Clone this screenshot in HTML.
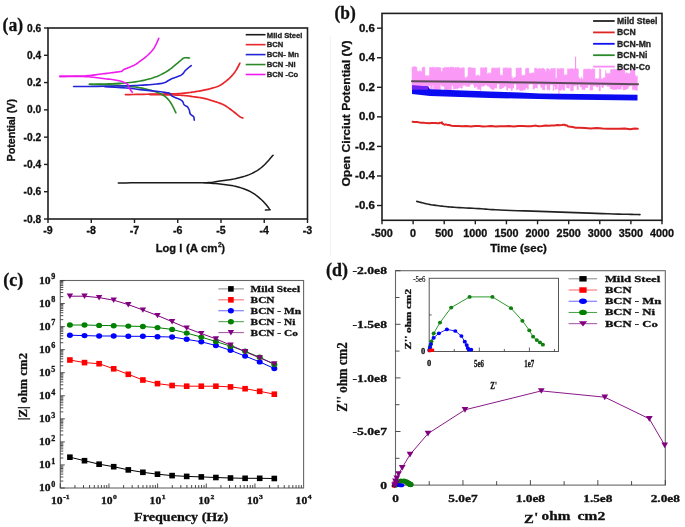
<!DOCTYPE html>
<html><head><meta charset="utf-8"><style>
html,body{margin:0;padding:0;background:#fff;}
body{width:685px;height:527px;overflow:hidden;font-family:"Liberation Sans", sans-serif;}
svg{display:block;filter:blur(0.35px);}
</style></head><body>
<svg width="685" height="527" viewBox="0 0 685 527">
<rect width="685" height="527" fill="#fff"/>
<rect x="48.0" y="28.0" width="259.5" height="191.0" fill="none" stroke="#1e1e1e" stroke-width="1.6"/>
<line x1="44.00" y1="28.00" x2="48.00" y2="28.00" stroke="#1e1e1e" stroke-width="1.4" />
<text x="41.20" y="31.50" font-family="'Liberation Sans', sans-serif" font-size="10.2" font-weight="bold" text-anchor="end" fill="#111" stroke="#111" stroke-width="0.3" textLength="14.18" lengthAdjust="spacingAndGlyphs" >0.6</text>
<line x1="44.00" y1="55.29" x2="48.00" y2="55.29" stroke="#1e1e1e" stroke-width="1.4" />
<text x="41.20" y="58.79" font-family="'Liberation Sans', sans-serif" font-size="10.2" font-weight="bold" text-anchor="end" fill="#111" stroke="#111" stroke-width="0.3" textLength="14.18" lengthAdjust="spacingAndGlyphs" >0.4</text>
<line x1="44.00" y1="82.57" x2="48.00" y2="82.57" stroke="#1e1e1e" stroke-width="1.4" />
<text x="41.20" y="86.07" font-family="'Liberation Sans', sans-serif" font-size="10.2" font-weight="bold" text-anchor="end" fill="#111" stroke="#111" stroke-width="0.3" textLength="14.18" lengthAdjust="spacingAndGlyphs" >0.2</text>
<line x1="44.00" y1="109.86" x2="48.00" y2="109.86" stroke="#1e1e1e" stroke-width="1.4" />
<text x="41.20" y="113.36" font-family="'Liberation Sans', sans-serif" font-size="10.2" font-weight="bold" text-anchor="end" fill="#111" stroke="#111" stroke-width="0.3" textLength="14.18" lengthAdjust="spacingAndGlyphs" >0.0</text>
<line x1="44.00" y1="137.14" x2="48.00" y2="137.14" stroke="#1e1e1e" stroke-width="1.4" />
<text x="41.20" y="140.64" font-family="'Liberation Sans', sans-serif" font-size="10.2" font-weight="bold" text-anchor="end" fill="#111" stroke="#111" stroke-width="0.3" textLength="17.58" lengthAdjust="spacingAndGlyphs" >-0.2</text>
<line x1="44.00" y1="164.43" x2="48.00" y2="164.43" stroke="#1e1e1e" stroke-width="1.4" />
<text x="41.20" y="167.93" font-family="'Liberation Sans', sans-serif" font-size="10.2" font-weight="bold" text-anchor="end" fill="#111" stroke="#111" stroke-width="0.3" textLength="17.58" lengthAdjust="spacingAndGlyphs" >-0.4</text>
<line x1="44.00" y1="191.71" x2="48.00" y2="191.71" stroke="#1e1e1e" stroke-width="1.4" />
<text x="41.20" y="195.21" font-family="'Liberation Sans', sans-serif" font-size="10.2" font-weight="bold" text-anchor="end" fill="#111" stroke="#111" stroke-width="0.3" textLength="17.58" lengthAdjust="spacingAndGlyphs" >-0.6</text>
<line x1="44.00" y1="219.00" x2="48.00" y2="219.00" stroke="#1e1e1e" stroke-width="1.4" />
<text x="41.20" y="222.50" font-family="'Liberation Sans', sans-serif" font-size="10.2" font-weight="bold" text-anchor="end" fill="#111" stroke="#111" stroke-width="0.3" textLength="17.58" lengthAdjust="spacingAndGlyphs" >-0.8</text>
<line x1="48.00" y1="219.00" x2="48.00" y2="223.00" stroke="#1e1e1e" stroke-width="1.4" />
<text x="48.00" y="233.80" font-family="'Liberation Sans', sans-serif" font-size="10.6" font-weight="bold" text-anchor="middle" fill="#111" stroke="#111" stroke-width="0.3" textLength="9.43" lengthAdjust="spacingAndGlyphs" >-9</text>
<line x1="91.25" y1="219.00" x2="91.25" y2="223.00" stroke="#1e1e1e" stroke-width="1.4" />
<text x="91.25" y="233.80" font-family="'Liberation Sans', sans-serif" font-size="10.6" font-weight="bold" text-anchor="middle" fill="#111" stroke="#111" stroke-width="0.3" textLength="9.43" lengthAdjust="spacingAndGlyphs" >-8</text>
<line x1="134.50" y1="219.00" x2="134.50" y2="223.00" stroke="#1e1e1e" stroke-width="1.4" />
<text x="134.50" y="233.80" font-family="'Liberation Sans', sans-serif" font-size="10.6" font-weight="bold" text-anchor="middle" fill="#111" stroke="#111" stroke-width="0.3" textLength="9.43" lengthAdjust="spacingAndGlyphs" >-7</text>
<line x1="177.75" y1="219.00" x2="177.75" y2="223.00" stroke="#1e1e1e" stroke-width="1.4" />
<text x="177.75" y="233.80" font-family="'Liberation Sans', sans-serif" font-size="10.6" font-weight="bold" text-anchor="middle" fill="#111" stroke="#111" stroke-width="0.3" textLength="9.43" lengthAdjust="spacingAndGlyphs" >-6</text>
<line x1="221.00" y1="219.00" x2="221.00" y2="223.00" stroke="#1e1e1e" stroke-width="1.4" />
<text x="221.00" y="233.80" font-family="'Liberation Sans', sans-serif" font-size="10.6" font-weight="bold" text-anchor="middle" fill="#111" stroke="#111" stroke-width="0.3" textLength="9.43" lengthAdjust="spacingAndGlyphs" >-5</text>
<line x1="264.25" y1="219.00" x2="264.25" y2="223.00" stroke="#1e1e1e" stroke-width="1.4" />
<text x="264.25" y="233.80" font-family="'Liberation Sans', sans-serif" font-size="10.6" font-weight="bold" text-anchor="middle" fill="#111" stroke="#111" stroke-width="0.3" textLength="9.43" lengthAdjust="spacingAndGlyphs" >-4</text>
<line x1="307.50" y1="219.00" x2="307.50" y2="223.00" stroke="#1e1e1e" stroke-width="1.4" />
<text x="307.50" y="233.80" font-family="'Liberation Sans', sans-serif" font-size="10.6" font-weight="bold" text-anchor="middle" fill="#111" stroke="#111" stroke-width="0.3" textLength="9.43" lengthAdjust="spacingAndGlyphs" >-3</text>
<text x="15.40" y="130.20" font-family="'Liberation Sans', sans-serif" font-size="11.8" font-weight="bold" text-anchor="middle" fill="#111" stroke="#111" stroke-width="0.3" textLength="62.60" lengthAdjust="spacingAndGlyphs"  transform="rotate(-90 15.40 130.20)">Potential (V)</text>
<text x="155.80" y="251.60" font-family="'Liberation Sans', sans-serif" font-size="11.6" font-weight="bold" text-anchor="start" fill="#111" stroke="#111" stroke-width="0.3" textLength="26.50" lengthAdjust="spacingAndGlyphs" >Log I</text>
<text x="186.00" y="251.60" font-family="'Liberation Sans', sans-serif" font-size="10.3" font-weight="bold" text-anchor="start" fill="#111" stroke="#111" stroke-width="0.3" textLength="31.50" lengthAdjust="spacingAndGlyphs" >(A cm</text>
<text x="218.00" y="246.60" font-family="'Liberation Sans', sans-serif" font-size="6.5" font-weight="bold" text-anchor="start" fill="#111" stroke="#111" stroke-width="0.3" >2</text>
<text x="221.60" y="251.60" font-family="'Liberation Sans', sans-serif" font-size="10.3" font-weight="bold" text-anchor="start" fill="#111" stroke="#111" stroke-width="0.3" >)</text>
<text x="2.60" y="30.50" font-family="'Liberation Serif', serif" font-size="18.5" font-weight="bold" text-anchor="start" fill="#111" stroke="#111" stroke-width="0.3" textLength="20.60" lengthAdjust="spacingAndGlyphs" >(a)</text>
<polyline points="118.30,182.90 121.50,182.89 125.73,182.88 130.77,182.87 136.39,182.86 142.35,182.84 148.42,182.83 154.38,182.81 160.00,182.80 165.60,182.80 171.54,182.81 177.64,182.83 183.72,182.85 189.60,182.85 195.09,182.84 200.02,182.79 204.20,182.70 207.54,182.57 210.16,182.40 212.23,182.21 213.91,181.99 215.37,181.75 216.76,181.50 218.25,181.25 220.00,181.00 221.93,180.76 223.84,180.52 225.74,180.28 227.64,180.03 229.53,179.76 231.41,179.45 233.30,179.10 235.20,178.70 237.12,178.25 239.07,177.78 241.04,177.27 242.99,176.72 244.93,176.14 246.82,175.51 248.65,174.83 250.40,174.10 252.07,173.33 253.68,172.52 255.23,171.67 256.74,170.77 258.21,169.83 259.65,168.82 261.08,167.74 262.50,166.60 263.97,165.28 265.50,163.76 267.05,162.11 268.56,160.43 269.97,158.81 271.23,157.34 272.29,156.11 273.10,155.20" fill="none" stroke="#1a1a1a" stroke-width="1.5" stroke-linejoin="round" stroke-linecap="round" />
<polyline points="204.20,182.70 205.42,182.79 207.05,182.91 208.99,183.05 211.15,183.21 213.42,183.38 215.72,183.57 217.95,183.78 220.00,184.00 221.93,184.22 223.84,184.43 225.74,184.66 227.64,184.90 229.53,185.17 231.41,185.49 233.30,185.86 235.20,186.30 237.12,186.79 239.07,187.32 241.04,187.90 242.99,188.53 244.93,189.20 246.82,189.94 248.65,190.74 250.40,191.60 252.09,192.56 253.75,193.61 255.36,194.73 256.93,195.91 258.43,197.12 259.86,198.34 261.22,199.54 262.50,200.70 263.72,201.90 264.89,203.19 266.01,204.51 267.06,205.82 268.00,207.05 268.84,208.16 269.54,209.10 270.10,209.80 265.50,210.10" fill="none" stroke="#1a1a1a" stroke-width="1.5" stroke-linejoin="round" stroke-linecap="round" />
<polyline points="125.50,94.60 127.39,94.57 129.91,94.53 132.91,94.48 136.24,94.42 139.77,94.37 143.33,94.31 146.79,94.25 150.00,94.20 153.12,94.15 156.36,94.11 159.65,94.06 162.90,94.02 166.05,93.97 169.01,93.92 171.72,93.86 174.10,93.80 176.10,93.73 177.79,93.66 179.22,93.59 180.46,93.51 181.60,93.42 182.68,93.32 183.79,93.22 185.00,93.10 186.25,92.97 187.47,92.82 188.67,92.67 189.84,92.51 191.00,92.34 192.16,92.16 193.32,91.98 194.50,91.80 195.69,91.62 196.88,91.44 198.06,91.26 199.25,91.07 200.44,90.87 201.62,90.66 202.81,90.44 204.00,90.20 205.21,89.94 206.44,89.66 207.69,89.36 208.93,89.06 210.15,88.74 211.33,88.43 212.45,88.11 213.50,87.80 214.45,87.52 215.31,87.27 216.10,87.04 216.86,86.80 217.61,86.53 218.38,86.20 219.20,85.80 220.10,85.30 221.09,84.69 222.16,83.99 223.28,83.22 224.41,82.39 225.55,81.53 226.66,80.65 227.72,79.76 228.70,78.90 229.62,78.05 230.49,77.19 231.33,76.32 232.14,75.43 232.91,74.53 233.66,73.61 234.39,72.67 235.10,71.70 235.81,70.64 236.53,69.47 237.23,68.23 237.90,67.00 238.52,65.82 239.07,64.76 239.54,63.86 239.90,63.20" fill="none" stroke="#e8262b" stroke-width="1.7" stroke-linejoin="round" stroke-linecap="round" />
<polyline points="150.00,94.60 151.95,94.63 154.64,94.67 157.85,94.71 161.37,94.76 164.97,94.82 168.44,94.88 171.55,94.94 174.10,95.00 176.10,95.06 177.79,95.12 179.22,95.18 180.46,95.24 181.60,95.31 182.68,95.40 183.79,95.49 185.00,95.60 186.25,95.73 187.47,95.87 188.67,96.03 189.84,96.20 191.00,96.37 192.16,96.55 193.32,96.73 194.50,96.90 195.69,97.06 196.88,97.21 198.06,97.36 199.25,97.51 200.44,97.67 201.62,97.85 202.81,98.06 204.00,98.30 205.19,98.58 206.38,98.89 207.56,99.22 208.75,99.58 209.94,99.94 211.12,100.32 212.31,100.71 213.50,101.10 214.71,101.49 215.94,101.89 217.19,102.30 218.43,102.71 219.65,103.14 220.83,103.58 221.95,104.03 223.00,104.50 223.97,104.99 224.88,105.49 225.73,106.01 226.54,106.54 227.32,107.08 228.08,107.62 228.84,108.16 229.60,108.70 230.36,109.24 231.11,109.78 231.85,110.33 232.57,110.88 233.28,111.42 233.97,111.96 234.64,112.49 235.30,113.00 235.95,113.52 236.59,114.05 237.21,114.58 237.83,115.09 238.41,115.59 238.98,116.04 239.51,116.45 240.00,116.80 240.47,117.08 240.92,117.31 241.35,117.49 241.74,117.64 242.10,117.75 242.42,117.85 242.69,117.93 242.90,118.00" fill="none" stroke="#e8262b" stroke-width="1.7" stroke-linejoin="round" stroke-linecap="round" />
<polyline points="89.40,84.30 91.46,84.26 94.23,84.21 97.53,84.15 101.18,84.08 105.00,84.00 108.82,83.89 112.44,83.76 115.70,83.60 118.68,83.42 121.59,83.23 124.43,83.02 127.20,82.78 129.90,82.52 132.54,82.22 135.10,81.88 137.60,81.50 140.03,81.08 142.39,80.61 144.68,80.12 146.90,79.58 149.05,79.01 151.14,78.41 153.15,77.77 155.10,77.10 156.96,76.40 158.73,75.66 160.43,74.88 162.06,74.07 163.63,73.23 165.18,72.36 166.69,71.45 168.20,70.50 169.72,69.47 171.24,68.34 172.75,67.14 174.22,65.92 175.62,64.72 176.94,63.59 178.14,62.57 179.20,61.70 180.09,60.97 180.82,60.33 181.42,59.78 181.94,59.30 182.42,58.89 182.90,58.55 183.41,58.25 184.00,58.00 184.69,57.82 185.45,57.74 186.25,57.73 187.05,57.77 187.81,57.84 188.50,57.91 189.07,57.97 189.50,58.00" fill="none" stroke="#2a8a2a" stroke-width="1.6" stroke-linejoin="round" stroke-linecap="round" />
<polyline points="89.40,84.30 91.46,84.36 94.23,84.43 97.53,84.51 101.18,84.61 105.00,84.73 108.82,84.86 112.44,85.02 115.70,85.20 118.69,85.40 121.64,85.63 124.52,85.87 127.34,86.14 130.06,86.42 132.69,86.73 135.21,87.05 137.60,87.40 139.86,87.77 141.99,88.15 144.01,88.56 145.93,88.99 147.77,89.44 149.53,89.90 151.24,90.39 152.90,90.90 154.51,91.43 156.06,91.97 157.54,92.53 158.95,93.11 160.29,93.71 161.57,94.34 162.77,95.00 163.90,95.70 164.93,96.41 165.86,97.13 166.71,97.87 167.49,98.64 168.23,99.46 168.95,100.33 169.67,101.28 170.40,102.30 171.17,103.50 171.97,104.90 172.78,106.41 173.56,107.96 174.28,109.46 174.94,110.82 175.48,111.96 175.90,112.80" fill="none" stroke="#2a8a2a" stroke-width="1.6" stroke-linejoin="round" stroke-linecap="round" />
<polyline points="73.60,86.50 79.40,86.47 87.78,86.43 96.84,86.38 104.70,86.30 111.02,86.20 116.76,86.07 121.94,85.93 126.60,85.80 130.58,85.68 133.92,85.57 136.95,85.45 140.00,85.30 143.19,85.12 146.34,84.92 149.31,84.71 152.00,84.50 154.35,84.29 156.44,84.07 158.30,83.84 160.00,83.60 161.50,83.36 162.78,83.12 163.93,82.84 165.00,82.50 165.98,82.06 166.84,81.55 167.65,81.01 168.50,80.50 169.39,80.01 170.27,79.51 171.18,79.04 172.10,78.60 173.04,78.22 173.98,77.89 174.96,77.57 176.00,77.20 177.17,76.78 178.44,76.34 179.66,75.87 180.70,75.40 181.49,74.93 182.12,74.45 182.67,73.95 183.20,73.40 183.69,72.79 184.12,72.14 184.57,71.46 185.10,70.80 185.75,70.15 186.47,69.50 187.23,68.85 188.00,68.20 188.85,67.49 189.78,66.74 190.62,66.07 191.20,65.60" fill="none" stroke="#2323d8" stroke-width="1.6" stroke-linejoin="round" stroke-linecap="round" />
<polyline points="104.70,86.60 108.83,86.85 114.81,87.20 121.21,87.60 126.60,88.00 130.63,88.40 134.04,88.83 137.09,89.24 140.00,89.60 142.77,89.89 145.31,90.14 147.69,90.37 150.00,90.60 152.25,90.83 154.41,91.04 156.48,91.26 158.50,91.50 160.54,91.77 162.56,92.06 164.42,92.35 166.00,92.60 167.21,92.77 168.15,92.88 168.91,93.02 169.60,93.30 170.18,93.78 170.62,94.41 171.02,95.05 171.50,95.60 172.07,96.02 172.68,96.36 173.33,96.68 174.00,97.00 174.71,97.33 175.47,97.66 176.24,97.98 177.00,98.30 177.76,98.59 178.53,98.86 179.28,99.15 180.00,99.50 180.71,99.90 181.41,100.35 182.06,100.85 182.60,101.40 182.99,102.06 183.26,102.82 183.50,103.56 183.80,104.20 184.18,104.70 184.60,105.11 185.04,105.46 185.50,105.80 185.98,106.05 186.49,106.23 187.00,106.47 187.50,106.90 188.01,107.62 188.54,108.53 189.02,109.50 189.40,110.40 189.61,111.23 189.69,112.04 189.78,112.81 190.00,113.50 190.41,114.09 190.93,114.61 191.49,115.07 192.00,115.50 192.47,115.82 192.94,116.06 193.36,116.34 193.70,116.80 193.94,117.58 194.11,118.58 194.22,119.54 194.30,120.20" fill="none" stroke="#2323d8" stroke-width="1.6" stroke-linejoin="round" stroke-linecap="round" />
<polyline points="59.90,76.40 61.96,76.36 64.76,76.33 68.09,76.28 71.77,76.23 75.58,76.15 79.32,76.06 82.80,75.95 85.80,75.80 88.41,75.61 90.86,75.39 93.15,75.13 95.33,74.86 97.39,74.57 99.36,74.30 101.25,74.04 103.10,73.80 104.88,73.59 106.58,73.38 108.19,73.18 109.71,72.99 111.16,72.81 112.52,72.64 113.80,72.46 115.00,72.30 116.12,72.15 117.15,72.01 118.10,71.88 118.97,71.76 119.76,71.63 120.48,71.50 121.12,71.36 121.70,71.20 122.15,71.03 122.44,70.85 122.62,70.67 122.75,70.48 122.87,70.28 123.04,70.07 123.30,69.84 123.70,69.60 124.25,69.34 124.91,69.06 125.65,68.76 126.44,68.45 127.25,68.14 128.07,67.82 128.86,67.51 129.60,67.20 130.30,66.91 130.99,66.63 131.68,66.35 132.36,66.07 133.03,65.79 133.69,65.48 134.35,65.16 135.00,64.80 135.65,64.40 136.30,63.97 136.94,63.51 137.57,63.04 138.20,62.56 138.82,62.09 139.42,61.63 140.00,61.20 140.56,60.80 141.10,60.42 141.63,60.06 142.14,59.71 142.65,59.35 143.16,58.99 143.68,58.60 144.20,58.20 144.73,57.78 145.27,57.35 145.80,56.91 146.34,56.46 146.88,56.00 147.42,55.52 147.96,55.02 148.50,54.50 149.05,53.96 149.62,53.39 150.20,52.80 150.78,52.19 151.34,51.58 151.89,50.95 152.41,50.33 152.90,49.70 153.35,49.08 153.77,48.45 154.17,47.82 154.55,47.19 154.92,46.54 155.28,45.88 155.64,45.20 156.00,44.50 156.38,43.73 156.79,42.88 157.20,41.98 157.59,41.08 157.97,40.21 158.30,39.44 158.59,38.79 158.80,38.30" fill="none" stroke="#f01af0" stroke-width="1.6" stroke-linejoin="round" stroke-linecap="round" />
<polyline points="59.90,76.40 61.96,76.40 64.76,76.40 68.09,76.39 71.77,76.38 75.58,76.39 79.32,76.43 82.80,76.49 85.80,76.60 88.40,76.76 90.82,76.96 93.09,77.20 95.24,77.46 97.28,77.73 99.26,78.00 101.19,78.26 103.10,78.50 104.99,78.72 106.83,78.93 108.62,79.13 110.34,79.33 111.98,79.53 113.55,79.74 115.02,79.96 116.40,80.20 117.68,80.45 118.86,80.72 119.96,81.00 120.97,81.28 121.90,81.57 122.77,81.85 123.56,82.13 124.30,82.40 124.95,82.65 125.52,82.88 126.00,83.11 126.41,83.33 126.78,83.56 127.10,83.81 127.41,84.09 127.70,84.40 127.95,84.74 128.13,85.10 128.25,85.48 128.36,85.88 128.46,86.30 128.58,86.75 128.76,87.21 129.00,87.70 129.34,88.25 129.76,88.89 130.24,89.57 130.73,90.26 131.22,90.92 131.66,91.52 132.03,92.03 132.30,92.40" fill="none" stroke="#f01af0" stroke-width="1.6" stroke-linejoin="round" stroke-linecap="round" />
<line x1="245.70" y1="34.70" x2="265.50" y2="34.70" stroke="#1a1a1a" stroke-width="1.6" />
<text x="266.80" y="37.50" font-family="'Liberation Sans', sans-serif" font-size="7.7" font-weight="bold" text-anchor="start" fill="#222" stroke="#222" stroke-width="0.3" textLength="35.58" lengthAdjust="spacingAndGlyphs" >Mild Steel</text>
<line x1="245.70" y1="44.65" x2="265.50" y2="44.65" stroke="#e8262b" stroke-width="1.6" />
<text x="266.80" y="47.45" font-family="'Liberation Sans', sans-serif" font-size="7.7" font-weight="bold" text-anchor="start" fill="#222" stroke="#222" stroke-width="0.3" textLength="16.52" lengthAdjust="spacingAndGlyphs" >BCN</text>
<line x1="245.70" y1="54.60" x2="265.50" y2="54.60" stroke="#2323d8" stroke-width="1.6" />
<text x="266.80" y="57.40" font-family="'Liberation Sans', sans-serif" font-size="7.7" font-weight="bold" text-anchor="start" fill="#222" stroke="#222" stroke-width="0.3" textLength="32.18" lengthAdjust="spacingAndGlyphs" >BCN- Mn</text>
<line x1="245.70" y1="64.55" x2="265.50" y2="64.55" stroke="#2a8a2a" stroke-width="1.6" />
<text x="266.80" y="67.35" font-family="'Liberation Sans', sans-serif" font-size="7.7" font-weight="bold" text-anchor="start" fill="#222" stroke="#222" stroke-width="0.3" textLength="28.80" lengthAdjust="spacingAndGlyphs" >BCN -Ni</text>
<line x1="245.70" y1="74.50" x2="265.50" y2="74.50" stroke="#f01af0" stroke-width="1.6" />
<text x="266.80" y="77.30" font-family="'Liberation Sans', sans-serif" font-size="7.7" font-weight="bold" text-anchor="start" fill="#222" stroke="#222" stroke-width="0.3" textLength="31.33" lengthAdjust="spacingAndGlyphs" >BCN -Co</text>
<line x1="330.30" y1="36.00" x2="330.30" y2="256.00" stroke="#f2f2f2" stroke-width="1.0" />
<rect x="382.0" y="13.4" width="280.0" height="206.9" fill="none" stroke="#1e1e1e" stroke-width="1.6"/>
<line x1="377.00" y1="28.18" x2="382.00" y2="28.18" stroke="#1e1e1e" stroke-width="1.4" />
<text x="374.80" y="31.58" font-family="'Liberation Sans', sans-serif" font-size="10.4" font-weight="bold" text-anchor="end" fill="#111" stroke="#111" stroke-width="0.3" textLength="15.90" lengthAdjust="spacingAndGlyphs" >0.6</text>
<line x1="377.00" y1="57.74" x2="382.00" y2="57.74" stroke="#1e1e1e" stroke-width="1.4" />
<text x="374.80" y="61.14" font-family="'Liberation Sans', sans-serif" font-size="10.4" font-weight="bold" text-anchor="end" fill="#111" stroke="#111" stroke-width="0.3" textLength="15.90" lengthAdjust="spacingAndGlyphs" >0.4</text>
<line x1="377.00" y1="87.29" x2="382.00" y2="87.29" stroke="#1e1e1e" stroke-width="1.4" />
<text x="374.80" y="90.69" font-family="'Liberation Sans', sans-serif" font-size="10.4" font-weight="bold" text-anchor="end" fill="#111" stroke="#111" stroke-width="0.3" textLength="15.90" lengthAdjust="spacingAndGlyphs" >0.2</text>
<line x1="377.00" y1="116.85" x2="382.00" y2="116.85" stroke="#1e1e1e" stroke-width="1.4" />
<text x="374.80" y="120.25" font-family="'Liberation Sans', sans-serif" font-size="10.4" font-weight="bold" text-anchor="end" fill="#111" stroke="#111" stroke-width="0.3" textLength="15.90" lengthAdjust="spacingAndGlyphs" >0.0</text>
<line x1="377.00" y1="146.41" x2="382.00" y2="146.41" stroke="#1e1e1e" stroke-width="1.4" />
<text x="374.80" y="149.81" font-family="'Liberation Sans', sans-serif" font-size="10.4" font-weight="bold" text-anchor="end" fill="#111" stroke="#111" stroke-width="0.3" textLength="19.71" lengthAdjust="spacingAndGlyphs" >-0.2</text>
<line x1="377.00" y1="175.96" x2="382.00" y2="175.96" stroke="#1e1e1e" stroke-width="1.4" />
<text x="374.80" y="179.36" font-family="'Liberation Sans', sans-serif" font-size="10.4" font-weight="bold" text-anchor="end" fill="#111" stroke="#111" stroke-width="0.3" textLength="19.71" lengthAdjust="spacingAndGlyphs" >-0.4</text>
<line x1="377.00" y1="205.52" x2="382.00" y2="205.52" stroke="#1e1e1e" stroke-width="1.4" />
<text x="374.80" y="208.92" font-family="'Liberation Sans', sans-serif" font-size="10.4" font-weight="bold" text-anchor="end" fill="#111" stroke="#111" stroke-width="0.3" textLength="19.71" lengthAdjust="spacingAndGlyphs" >-0.6</text>
<line x1="382.00" y1="220.30" x2="382.00" y2="224.30" stroke="#1e1e1e" stroke-width="1.4" />
<text x="382.00" y="237.00" font-family="'Liberation Sans', sans-serif" font-size="10.3" font-weight="bold" text-anchor="middle" fill="#111" stroke="#111" stroke-width="0.3" textLength="21.65" lengthAdjust="spacingAndGlyphs" >-500</text>
<line x1="413.11" y1="220.30" x2="413.11" y2="224.30" stroke="#1e1e1e" stroke-width="1.4" />
<text x="413.11" y="237.00" font-family="'Liberation Sans', sans-serif" font-size="10.3" font-weight="bold" text-anchor="middle" fill="#111" stroke="#111" stroke-width="0.3" textLength="6.01" lengthAdjust="spacingAndGlyphs" >0</text>
<line x1="444.22" y1="220.30" x2="444.22" y2="224.30" stroke="#1e1e1e" stroke-width="1.4" />
<text x="444.22" y="237.00" font-family="'Liberation Sans', sans-serif" font-size="10.3" font-weight="bold" text-anchor="middle" fill="#111" stroke="#111" stroke-width="0.3" textLength="18.04" lengthAdjust="spacingAndGlyphs" >500</text>
<line x1="475.33" y1="220.30" x2="475.33" y2="224.30" stroke="#1e1e1e" stroke-width="1.4" />
<text x="475.33" y="237.00" font-family="'Liberation Sans', sans-serif" font-size="10.3" font-weight="bold" text-anchor="middle" fill="#111" stroke="#111" stroke-width="0.3" textLength="24.06" lengthAdjust="spacingAndGlyphs" >1000</text>
<line x1="506.44" y1="220.30" x2="506.44" y2="224.30" stroke="#1e1e1e" stroke-width="1.4" />
<text x="506.44" y="237.00" font-family="'Liberation Sans', sans-serif" font-size="10.3" font-weight="bold" text-anchor="middle" fill="#111" stroke="#111" stroke-width="0.3" textLength="24.06" lengthAdjust="spacingAndGlyphs" >1500</text>
<line x1="537.56" y1="220.30" x2="537.56" y2="224.30" stroke="#1e1e1e" stroke-width="1.4" />
<text x="537.56" y="237.00" font-family="'Liberation Sans', sans-serif" font-size="10.3" font-weight="bold" text-anchor="middle" fill="#111" stroke="#111" stroke-width="0.3" textLength="24.06" lengthAdjust="spacingAndGlyphs" >2000</text>
<line x1="568.67" y1="220.30" x2="568.67" y2="224.30" stroke="#1e1e1e" stroke-width="1.4" />
<text x="568.67" y="237.00" font-family="'Liberation Sans', sans-serif" font-size="10.3" font-weight="bold" text-anchor="middle" fill="#111" stroke="#111" stroke-width="0.3" textLength="24.06" lengthAdjust="spacingAndGlyphs" >2500</text>
<line x1="599.78" y1="220.30" x2="599.78" y2="224.30" stroke="#1e1e1e" stroke-width="1.4" />
<text x="599.78" y="237.00" font-family="'Liberation Sans', sans-serif" font-size="10.3" font-weight="bold" text-anchor="middle" fill="#111" stroke="#111" stroke-width="0.3" textLength="24.06" lengthAdjust="spacingAndGlyphs" >3000</text>
<line x1="630.89" y1="220.30" x2="630.89" y2="224.30" stroke="#1e1e1e" stroke-width="1.4" />
<text x="630.89" y="237.00" font-family="'Liberation Sans', sans-serif" font-size="10.3" font-weight="bold" text-anchor="middle" fill="#111" stroke="#111" stroke-width="0.3" textLength="24.06" lengthAdjust="spacingAndGlyphs" >3500</text>
<line x1="662.00" y1="220.30" x2="662.00" y2="224.30" stroke="#1e1e1e" stroke-width="1.4" />
<text x="662.00" y="237.00" font-family="'Liberation Sans', sans-serif" font-size="10.3" font-weight="bold" text-anchor="middle" fill="#111" stroke="#111" stroke-width="0.3" textLength="24.06" lengthAdjust="spacingAndGlyphs" >4000</text>
<text x="350.40" y="113.50" font-family="'Liberation Sans', sans-serif" font-size="11.8" font-weight="bold" text-anchor="middle" fill="#111" stroke="#111" stroke-width="0.3" textLength="146.20" lengthAdjust="spacingAndGlyphs"  transform="rotate(-90 350.40 113.50)">Open Circiut Potential (V)</text>
<text x="490.20" y="251.90" font-family="'Liberation Sans', sans-serif" font-size="10.9" font-weight="bold" text-anchor="start" fill="#111" stroke="#111" stroke-width="0.3" textLength="56.70" lengthAdjust="spacingAndGlyphs" >Time (sec)</text>
<text x="334.40" y="18.50" font-family="'Liberation Serif', serif" font-size="18.5" font-weight="bold" text-anchor="start" fill="#111" stroke="#111" stroke-width="0.3" textLength="21.30" lengthAdjust="spacingAndGlyphs" >(b)</text>
<path d="M412.2,66.8V89.5 M412.7,67.3V89.5 M413.2,67.1V89.5 M413.7,66.4V89.5 M414.2,66.4V89.5 M414.7,66.4V89.5 M415.2,67.0V89.5 M415.7,66.5V89.5 M416.2,67.3V89.5 M416.7,67.2V89.5 M417.2,71.4V89.5 M417.7,70.5V89.5 M418.2,71.3V89.5 M418.7,71.8V89.5 M419.2,71.4V89.5 M419.7,69.9V89.5 M420.2,71.4V89.5 M420.7,71.0V89.5 M421.2,71.5V89.5 M421.7,71.8V89.5 M422.2,67.5V89.5 M422.7,67.3V89.5 M423.2,67.7V89.5 M423.7,66.9V89.5 M424.2,66.6V89.5 M424.7,67.6V89.5 M425.2,75.4V89.5 M425.7,75.5V89.5 M426.2,75.8V89.5 M426.7,75.4V89.5 M427.2,76.7V89.5 M427.7,75.6V89.5 M428.2,75.1V89.5 M428.7,76.6V89.5 M429.2,75.4V85.8 M429.7,67.2V85.5 M430.2,67.6V86.1 M430.7,67.3V89.4 M431.2,67.1V90.0 M431.7,68.0V89.3 M432.2,66.9V89.6 M432.7,67.4V85.2 M433.2,67.3V85.2 M433.7,66.6V89.9 M434.2,67.3V89.7 M434.7,68.0V89.6 M435.2,67.5V90.1 M435.7,67.4V90.1 M436.2,66.7V90.4 M436.7,67.8V90.7 M437.2,67.3V90.4 M437.7,67.1V90.7 M438.2,67.6V91.1 M438.7,67.0V90.5 M439.2,67.9V91.3 M439.7,67.1V90.9 M440.2,67.4V91.0 M440.7,67.8V84.6 M441.2,70.9V84.8 M441.7,72.2V86.1 M442.2,71.3V86.5 M442.7,68.1V86.0 M443.2,68.0V86.6 M443.7,67.9V86.4 M444.2,67.7V86.9 M444.7,67.3V90.1 M445.2,67.8V89.3 M445.7,66.9V91.4 M446.2,66.9V90.5 M446.7,67.9V90.6 M447.2,67.8V91.4 M447.7,67.0V90.5 M448.2,67.0V91.2 M448.7,67.2V90.8 M449.2,68.1V91.2 M449.7,67.5V90.8 M450.2,66.8V90.4 M450.7,66.7V90.4 M451.2,67.4V90.8 M451.7,67.2V85.7 M452.2,66.8V85.9 M452.7,66.8V85.5 M453.2,67.2V86.1 M453.7,67.1V89.5 M454.2,68.2V89.2 M454.7,68.2V88.8 M455.2,67.0V88.7 M455.7,67.1V89.0 M456.2,67.3V88.5 M456.7,67.5V88.5 M457.2,68.1V89.1 M457.7,67.1V89.4 M458.2,67.4V87.8 M458.7,66.8V88.0 M459.2,67.6V88.3 M459.7,68.0V86.5 M460.2,68.1V86.4 M460.7,68.3V88.0 M461.2,67.9V88.0 M461.7,68.3V88.8 M462.2,67.0V88.0 M462.7,68.2V84.9 M463.2,67.9V85.9 M463.7,67.3V85.8 M464.2,67.8V85.6 M464.7,76.8V84.9 M465.2,77.7V85.3 M465.7,77.8V86.3 M466.2,78.4V86.6 M466.7,77.0V86.0 M467.2,76.1V86.7 M467.7,76.5V86.0 M468.2,68.2V86.6 M468.7,67.4V86.7 M469.2,67.4V86.6 M469.7,67.0V86.5 M470.2,67.2V84.3 M470.7,68.2V84.8 M471.2,67.5V84.4 M471.7,68.0V84.1 M472.2,67.5V83.9 M472.7,68.1V83.8 M473.2,68.2V84.3 M473.7,68.1V85.6 M474.2,67.9V85.5 M474.7,68.0V87.9 M475.2,67.9V88.0 M475.7,75.7V86.6 M476.2,75.7V86.6 M476.7,75.6V86.3 M477.2,75.4V86.7 M477.7,74.5V89.6 M478.2,75.6V88.8 M478.7,74.7V89.5 M479.2,76.4V89.1 M479.7,75.7V89.3 M480.2,76.0V90.3 M480.7,67.8V91.2 M481.2,67.6V86.9 M481.7,67.3V86.5 M482.2,68.4V86.2 M482.7,68.4V86.0 M483.2,67.1V86.4 M483.7,67.5V86.3 M484.2,67.6V86.1 M484.7,68.5V85.7 M485.2,67.7V84.7 M485.7,67.2V85.0 M486.2,67.3V84.8 M486.7,67.6V85.2 M487.2,73.7V86.4 M487.7,73.8V86.2 M488.2,73.3V86.0 M488.7,72.7V86.2 M489.2,74.4V87.1 M489.7,72.5V87.5 M490.2,73.7V87.5 M490.7,73.4V88.5 M491.2,72.3V89.0 M491.7,68.5V88.8 M492.2,67.8V88.8 M492.7,67.7V90.0 M493.2,68.5V90.2 M493.7,67.8V89.7 M494.2,67.7V88.6 M494.7,67.9V88.6 M495.2,68.6V88.1 M495.7,67.9V87.8 M496.2,67.5V87.7 M496.7,68.5V88.5 M497.2,68.6V84.1 M497.7,67.7V83.8 M498.2,68.2V83.6 M498.7,67.4V84.1 M499.2,67.8V84.1 M499.7,67.3V89.2 M500.2,74.4V88.9 M500.7,76.1V88.8 M501.2,74.7V89.1 M501.7,75.6V88.2 M502.2,74.7V88.5 M502.7,75.6V87.7 M503.2,67.6V87.8 M503.7,68.7V87.7 M504.2,67.7V85.9 M504.7,68.2V86.6 M505.2,67.6V86.6 M505.7,67.8V86.0 M506.2,67.6V86.5 M506.7,68.1V89.9 M507.2,67.4V90.0 M507.7,68.8V90.7 M508.2,67.7V87.9 M508.7,68.2V88.0 M509.2,68.5V88.3 M509.7,67.8V88.1 M510.2,67.9V88.5 M510.7,67.5V87.7 M511.2,68.3V90.2 M511.7,77.4V90.8 M512.2,76.2V90.3 M512.7,79.1V87.8 M513.2,78.4V88.5 M513.7,78.1V88.0 M514.2,77.0V84.1 M514.7,77.7V84.2 M515.2,76.9V83.8 M515.7,77.1V83.9 M516.2,68.1V84.7 M516.7,67.7V90.1 M517.2,68.6V89.6 M517.7,67.9V89.6 M518.2,68.1V89.6 M518.7,67.9V88.8 M519.2,68.7V89.6 M519.7,67.6V90.3 M520.2,67.6V90.9 M520.7,67.8V90.6 M521.2,67.8V90.8 M521.7,75.9V90.1 M522.2,74.8V91.1 M522.7,75.7V89.8 M523.2,75.1V90.4 M523.7,75.2V89.7 M524.2,75.9V90.2 M524.7,74.7V90.3 M525.2,75.4V89.9 M525.7,69.0V88.2 M526.2,68.1V88.5 M526.7,68.2V87.7 M527.2,67.7V87.9 M527.7,68.7V89.6 M528.2,68.1V89.1 M528.7,68.0V84.1 M529.2,73.6V84.4 M529.7,72.7V84.5 M530.2,73.7V84.6 M530.7,73.3V84.0 M531.2,73.0V83.8 M531.7,72.9V83.9 M532.2,73.5V83.9 M532.7,72.6V84.5 M533.2,73.2V89.4 M533.7,72.3V89.1 M534.2,73.6V89.5 M534.7,68.6V87.9 M535.2,67.8V88.0 M535.7,67.7V87.6 M536.2,68.8V88.0 M536.7,67.8V87.9 M537.2,69.1V88.4 M537.7,69.2V84.7 M538.2,68.8V84.8 M538.7,68.6V84.3 M539.2,68.6V84.4 M539.7,68.1V84.5 M540.2,68.6V84.2 M540.7,68.3V87.1 M541.2,68.9V87.4 M541.7,68.7V87.8 M542.2,68.6V87.8 M542.7,67.9V90.1 M543.2,68.3V89.9 M543.7,68.0V89.5 M544.2,69.0V90.1 M544.7,69.2V90.2 M545.2,71.7V85.4 M545.7,70.2V85.3 M546.2,71.5V85.3 M546.7,68.4V84.9 M547.2,68.3V89.6 M547.7,68.8V90.3 M548.2,68.4V89.5 M548.7,68.7V89.4 M549.2,69.6V90.5 M549.7,69.6V90.1 M550.2,71.1V84.9 M550.7,68.9V84.5 M551.2,68.4V84.8 M551.7,68.0V84.1 M552.2,69.3V84.6 M552.7,68.0V84.9 M553.2,69.3V90.7 M553.7,68.3V90.6 M554.2,68.0V86.5 M554.7,68.4V86.1 M555.2,68.2V89.3 M555.7,77.8V89.7 M556.2,78.5V89.4 M556.7,77.7V88.9 M557.2,68.1V89.0 M557.7,69.4V84.6 M558.2,68.0V84.2 M558.7,69.1V89.9 M559.2,68.2V89.9 M559.7,69.2V90.5 M560.2,69.2V90.1 M560.7,68.1V90.6 M561.2,68.3V90.3 M561.7,68.0V89.3 M562.2,69.2V88.8 M562.7,68.6V89.6 M563.2,68.5V90.0 M563.7,68.0V90.6 M564.2,76.0V90.0 M564.7,74.4V90.6 M565.2,75.2V85.0 M565.7,75.1V85.0 M566.2,74.0V84.4 M566.7,74.9V87.8 M567.2,75.1V88.1 M567.7,68.6V87.8 M568.2,68.7V88.4 M568.7,69.2V88.0 M569.2,68.5V88.5 M569.7,69.0V84.9 M570.2,69.0V85.1 M570.7,68.5V90.8 M571.2,68.8V90.8 M571.7,68.4V91.2 M572.2,68.2V90.5 M572.7,68.7V91.2 M573.2,69.2V90.6 M573.7,69.0V86.4 M574.2,68.8V86.1 M574.7,68.3V86.1 M575.2,69.2V85.6 M575.7,69.1V85.6 M576.2,69.0V85.1 M576.7,68.3V85.2 M577.2,69.2V89.5 M577.7,68.2V89.6 M578.2,69.1V90.0 M578.7,77.1V84.6 M579.2,77.7V84.6 M579.7,78.5V84.7 M580.2,78.7V87.1 M580.7,79.3V87.2 M581.2,77.9V86.9 M581.7,76.7V87.5 M582.2,78.7V90.0 M582.7,79.9V89.5 M583.2,78.6V89.1 M583.7,69.4V89.6 M584.2,69.3V90.1 M584.7,68.7V89.8 M585.2,69.5V88.1 M585.7,68.9V88.2 M586.2,68.8V87.7 M586.7,69.0V87.5 M587.2,69.6V87.7 M587.7,68.8V87.9 M588.2,68.7V85.3 M588.7,69.2V84.5 M589.2,68.5V85.1 M589.7,68.8V85.3 M590.2,69.5V90.5 M590.7,69.5V90.4 M591.2,69.1V90.1 M591.7,69.6V89.9 M592.2,68.6V90.2 M592.7,68.4V89.8 M593.2,69.0V86.2 M593.7,69.1V86.0 M594.2,69.0V86.2 M594.7,68.6V86.2 M595.2,79.0V85.4 M595.7,78.9V85.6 M596.2,78.8V86.8 M596.7,78.0V86.9 M597.2,78.7V87.5 M597.7,79.3V86.8 M598.2,78.3V86.1 M598.7,78.9V86.2 M599.2,78.3V91.1 M599.7,68.5V90.8 M600.2,68.9V91.0 M600.7,69.4V83.7 M601.2,78.3V84.0 M601.7,79.5V87.0 M602.2,78.7V87.9 M602.7,78.5V87.8 M603.2,78.7V87.7 M603.7,77.5V85.5 M604.2,77.6V85.6 M604.7,77.4V85.0 M605.2,78.1V85.1 M605.7,69.9V85.9 M606.2,73.0V84.4 M606.7,72.8V84.3 M607.2,74.0V86.8 M607.7,73.7V86.3 M608.2,73.1V86.9 M608.7,73.9V86.0 M609.2,73.3V86.5 M609.7,73.2V86.3 M610.2,74.5V88.9 M610.7,69.7V88.8 M611.2,70.0V88.8 M611.7,69.0V89.0 M612.2,69.1V88.8 M612.7,69.9V90.0 M613.2,69.7V89.3 M613.7,68.7V90.0 M614.2,68.8V89.3 M614.7,69.4V89.5 M615.2,69.7V89.5 M615.7,69.5V89.7 M616.2,68.9V90.0 M616.7,69.8V89.1 M617.2,69.0V88.9 M617.7,69.3V89.3 M618.2,69.2V88.9 M618.7,68.7V89.1 M619.2,68.8V89.5 M619.7,68.7V89.7 M620.2,69.5V89.1 M620.7,70.0V89.0 M621.2,69.3V89.5 M621.7,68.8V86.5 M622.2,69.9V86.9 M622.7,70.0V86.6 M623.2,69.2V90.1 M623.7,68.9V90.0 M624.2,69.0V89.8 M624.7,70.1V89.7 M625.2,73.6V90.3 M625.7,73.8V89.7 M626.2,72.2V89.2 M626.7,72.7V89.2 M627.2,72.8V88.9 M627.7,73.3V88.9 M628.2,73.1V88.4 M628.7,74.4V86.3 M629.2,73.9V86.3 M629.7,73.0V86.0 M630.2,73.3V86.4 M630.7,68.9V86.1 M631.2,69.3V86.1 M631.7,70.0V84.9 M632.2,69.5V85.5 M632.7,70.1V90.3 M633.2,70.2V89.4 M633.7,69.2V89.3 M634.2,69.8V90.3 M634.7,68.8V89.6 M635.2,74.6V89.7 M635.7,75.8V90.1 M636.2,76.6V90.8 M636.7,76.6V90.1 M637.2,75.5V90.6" stroke="#f88cf4" stroke-width="0.75" fill="none"/>
<line x1="575.60" y1="56.80" x2="575.60" y2="70.00" stroke="#f88cf4" stroke-width="1.1" />
<line x1="559.00" y1="88.00" x2="559.00" y2="94.50" stroke="#f88cf4" stroke-width="0.9" />
<path d="M412,85.6 L428,86.6 L430,89.2 L490,91.5 L520,92.5 L540,93.5 L600,94.3 L637.5,94.8 L637.5,100.5 L560,99.5 L490,97.9 L430,96 L412,94.1Z" fill="#0b0bf2"/>
<path d="M412,85.4 L420,85.8 L428,86.6 L428,89.8 L412,89.8Z" fill="#7424ee"/>
<polyline points="412.00,81.30 470.00,81.80 530.00,82.50 590.00,83.50 638.00,84.30" fill="none" stroke="#5e4a5c" stroke-width="2.1" stroke-linejoin="round" stroke-linecap="round" />
<polyline points="412.60,121.78 414.49,121.99 417.15,121.95 420.28,122.63 423.56,122.72 426.67,123.12 429.30,123.29 431.53,123.08 433.63,122.98 435.57,122.93 437.30,123.16 438.79,123.35 440.00,122.71 440.85,122.87 441.35,123.02 441.61,122.47 441.73,122.75 441.83,122.40 442.00,122.64 442.14,123.04 442.13,122.54 442.09,123.21 442.14,123.36 442.41,123.80 443.00,123.70 443.82,124.37 444.76,124.69 445.90,124.38 447.36,124.89 449.22,125.09 451.60,125.73 454.63,125.97 458.24,126.02 462.28,126.20 466.53,126.09 470.84,126.40 475.00,126.05 479.05,125.99 483.14,126.48 487.27,126.33 491.46,126.06 495.70,126.61 500.00,126.14 504.45,126.20 509.05,126.06 513.71,126.38 518.33,126.00 522.79,126.04 527.00,126.14 530.99,126.35 534.85,125.61 538.56,126.16 542.10,125.94 545.45,125.52 548.60,125.84 551.61,125.60 554.52,125.38 557.24,125.12 559.70,125.17 561.81,125.03 563.50,124.82 564.55,124.86 564.99,124.91 565.08,125.06 565.09,125.19 565.31,125.41 566.00,125.13 566.94,125.41 567.86,126.31 568.98,126.49 570.52,126.69 572.69,127.09 575.70,127.72 579.82,127.82 584.92,127.98 590.65,128.53 596.66,128.03 602.59,128.58 608.10,128.74 613.55,128.76 619.30,128.83 624.98,128.49 630.20,129.18 634.60,128.56 637.80,128.80" fill="none" stroke="#e02424" stroke-width="2.0" stroke-linejoin="round" stroke-linecap="round" />
<polyline points="416.80,201.40 417.77,201.64 419.05,201.97 420.58,202.36 422.27,202.79 424.07,203.24 425.89,203.67 427.66,204.07 429.30,204.40 430.85,204.68 432.41,204.93 433.96,205.15 435.51,205.36 437.05,205.56 438.60,205.74 440.15,205.92 441.70,206.10 443.17,206.27 444.51,206.43 445.81,206.58 447.12,206.72 448.54,206.86 450.13,207.00 451.96,207.15 454.10,207.30 456.63,207.46 459.51,207.62 462.65,207.78 465.96,207.94 469.33,208.10 472.67,208.27 475.89,208.43 478.90,208.60 481.49,208.77 483.66,208.93 485.64,209.10 487.62,209.26 489.84,209.43 492.50,209.61 495.81,209.80 500.00,210.00 505.18,210.21 511.19,210.44 517.84,210.68 524.94,210.92 532.30,211.17 539.73,211.41 547.03,211.66 554.00,211.90 560.90,212.15 568.02,212.40 575.22,212.66 582.38,212.92 589.36,213.17 596.05,213.40 602.30,213.62 608.00,213.80 613.27,213.96 618.30,214.10 623.02,214.22 627.38,214.32 631.31,214.41 634.77,214.48 637.68,214.55 640.00,214.60" fill="none" stroke="#222" stroke-width="1.6" stroke-linejoin="round" stroke-linecap="round" />
<line x1="593.10" y1="21.00" x2="614.70" y2="21.00" stroke="#222" stroke-width="1.8" />
<text x="617.10" y="23.90" font-family="'Liberation Sans', sans-serif" font-size="8.3" font-weight="bold" text-anchor="start" fill="#222" stroke="#222" stroke-width="0.3" textLength="40.29" lengthAdjust="spacingAndGlyphs" >Mild Steel</text>
<line x1="593.10" y1="32.40" x2="614.70" y2="32.40" stroke="#e02424" stroke-width="1.8" />
<text x="617.10" y="35.30" font-family="'Liberation Sans', sans-serif" font-size="8.3" font-weight="bold" text-anchor="start" fill="#222" stroke="#222" stroke-width="0.3" textLength="18.70" lengthAdjust="spacingAndGlyphs" >BCN</text>
<line x1="593.10" y1="43.80" x2="614.70" y2="43.80" stroke="#1010f0" stroke-width="1.8" />
<text x="617.10" y="46.70" font-family="'Liberation Sans', sans-serif" font-size="8.3" font-weight="bold" text-anchor="start" fill="#222" stroke="#222" stroke-width="0.3" textLength="34.04" lengthAdjust="spacingAndGlyphs" >BCN-Mn</text>
<line x1="593.10" y1="55.20" x2="614.70" y2="55.20" stroke="#2a8a2a" stroke-width="1.8" />
<text x="617.10" y="58.10" font-family="'Liberation Sans', sans-serif" font-size="8.3" font-weight="bold" text-anchor="start" fill="#222" stroke="#222" stroke-width="0.3" textLength="30.21" lengthAdjust="spacingAndGlyphs" >BCN-Ni</text>
<line x1="593.10" y1="66.60" x2="614.70" y2="66.60" stroke="#f88cf4" stroke-width="1.8" />
<text x="617.10" y="69.50" font-family="'Liberation Sans', sans-serif" font-size="8.3" font-weight="bold" text-anchor="start" fill="#222" stroke="#222" stroke-width="0.3" textLength="33.08" lengthAdjust="spacingAndGlyphs" >BCN-Co</text>
<rect x="60.3" y="280.5" width="243.3" height="207.5" fill="none" stroke="#666" stroke-width="1.1"/>
<line x1="60.30" y1="488.00" x2="64.80" y2="488.00" stroke="#3a3a3a" stroke-width="0.9" />
<line x1="60.30" y1="481.06" x2="63.30" y2="481.06" stroke="#3a3a3a" stroke-width="0.9" />
<line x1="60.30" y1="477.00" x2="63.30" y2="477.00" stroke="#3a3a3a" stroke-width="0.9" />
<line x1="60.30" y1="474.12" x2="63.30" y2="474.12" stroke="#3a3a3a" stroke-width="0.9" />
<line x1="60.30" y1="471.88" x2="63.30" y2="471.88" stroke="#3a3a3a" stroke-width="0.9" />
<line x1="60.30" y1="470.06" x2="63.30" y2="470.06" stroke="#3a3a3a" stroke-width="0.9" />
<line x1="60.30" y1="468.52" x2="63.30" y2="468.52" stroke="#3a3a3a" stroke-width="0.9" />
<line x1="60.30" y1="467.18" x2="63.30" y2="467.18" stroke="#3a3a3a" stroke-width="0.9" />
<line x1="60.30" y1="466.00" x2="63.30" y2="466.00" stroke="#3a3a3a" stroke-width="0.9" />
<line x1="60.30" y1="464.94" x2="64.80" y2="464.94" stroke="#3a3a3a" stroke-width="0.9" />
<line x1="60.30" y1="458.00" x2="63.30" y2="458.00" stroke="#3a3a3a" stroke-width="0.9" />
<line x1="60.30" y1="453.94" x2="63.30" y2="453.94" stroke="#3a3a3a" stroke-width="0.9" />
<line x1="60.30" y1="451.06" x2="63.30" y2="451.06" stroke="#3a3a3a" stroke-width="0.9" />
<line x1="60.30" y1="448.83" x2="63.30" y2="448.83" stroke="#3a3a3a" stroke-width="0.9" />
<line x1="60.30" y1="447.00" x2="63.30" y2="447.00" stroke="#3a3a3a" stroke-width="0.9" />
<line x1="60.30" y1="445.46" x2="63.30" y2="445.46" stroke="#3a3a3a" stroke-width="0.9" />
<line x1="60.30" y1="444.12" x2="63.30" y2="444.12" stroke="#3a3a3a" stroke-width="0.9" />
<line x1="60.30" y1="442.94" x2="63.30" y2="442.94" stroke="#3a3a3a" stroke-width="0.9" />
<line x1="60.30" y1="441.89" x2="64.80" y2="441.89" stroke="#3a3a3a" stroke-width="0.9" />
<line x1="60.30" y1="434.95" x2="63.30" y2="434.95" stroke="#3a3a3a" stroke-width="0.9" />
<line x1="60.30" y1="430.89" x2="63.30" y2="430.89" stroke="#3a3a3a" stroke-width="0.9" />
<line x1="60.30" y1="428.01" x2="63.30" y2="428.01" stroke="#3a3a3a" stroke-width="0.9" />
<line x1="60.30" y1="425.77" x2="63.30" y2="425.77" stroke="#3a3a3a" stroke-width="0.9" />
<line x1="60.30" y1="423.95" x2="63.30" y2="423.95" stroke="#3a3a3a" stroke-width="0.9" />
<line x1="60.30" y1="422.40" x2="63.30" y2="422.40" stroke="#3a3a3a" stroke-width="0.9" />
<line x1="60.30" y1="421.07" x2="63.30" y2="421.07" stroke="#3a3a3a" stroke-width="0.9" />
<line x1="60.30" y1="419.89" x2="63.30" y2="419.89" stroke="#3a3a3a" stroke-width="0.9" />
<line x1="60.30" y1="418.83" x2="64.80" y2="418.83" stroke="#3a3a3a" stroke-width="0.9" />
<line x1="60.30" y1="411.89" x2="63.30" y2="411.89" stroke="#3a3a3a" stroke-width="0.9" />
<line x1="60.30" y1="407.83" x2="63.30" y2="407.83" stroke="#3a3a3a" stroke-width="0.9" />
<line x1="60.30" y1="404.95" x2="63.30" y2="404.95" stroke="#3a3a3a" stroke-width="0.9" />
<line x1="60.30" y1="402.72" x2="63.30" y2="402.72" stroke="#3a3a3a" stroke-width="0.9" />
<line x1="60.30" y1="400.89" x2="63.30" y2="400.89" stroke="#3a3a3a" stroke-width="0.9" />
<line x1="60.30" y1="399.35" x2="63.30" y2="399.35" stroke="#3a3a3a" stroke-width="0.9" />
<line x1="60.30" y1="398.01" x2="63.30" y2="398.01" stroke="#3a3a3a" stroke-width="0.9" />
<line x1="60.30" y1="396.83" x2="63.30" y2="396.83" stroke="#3a3a3a" stroke-width="0.9" />
<line x1="60.30" y1="395.78" x2="64.80" y2="395.78" stroke="#3a3a3a" stroke-width="0.9" />
<line x1="60.30" y1="388.84" x2="63.30" y2="388.84" stroke="#3a3a3a" stroke-width="0.9" />
<line x1="60.30" y1="384.78" x2="63.30" y2="384.78" stroke="#3a3a3a" stroke-width="0.9" />
<line x1="60.30" y1="381.90" x2="63.30" y2="381.90" stroke="#3a3a3a" stroke-width="0.9" />
<line x1="60.30" y1="379.66" x2="63.30" y2="379.66" stroke="#3a3a3a" stroke-width="0.9" />
<line x1="60.30" y1="377.84" x2="63.30" y2="377.84" stroke="#3a3a3a" stroke-width="0.9" />
<line x1="60.30" y1="376.29" x2="63.30" y2="376.29" stroke="#3a3a3a" stroke-width="0.9" />
<line x1="60.30" y1="374.96" x2="63.30" y2="374.96" stroke="#3a3a3a" stroke-width="0.9" />
<line x1="60.30" y1="373.78" x2="63.30" y2="373.78" stroke="#3a3a3a" stroke-width="0.9" />
<line x1="60.30" y1="372.72" x2="64.80" y2="372.72" stroke="#3a3a3a" stroke-width="0.9" />
<line x1="60.30" y1="365.78" x2="63.30" y2="365.78" stroke="#3a3a3a" stroke-width="0.9" />
<line x1="60.30" y1="361.72" x2="63.30" y2="361.72" stroke="#3a3a3a" stroke-width="0.9" />
<line x1="60.30" y1="358.84" x2="63.30" y2="358.84" stroke="#3a3a3a" stroke-width="0.9" />
<line x1="60.30" y1="356.61" x2="63.30" y2="356.61" stroke="#3a3a3a" stroke-width="0.9" />
<line x1="60.30" y1="354.78" x2="63.30" y2="354.78" stroke="#3a3a3a" stroke-width="0.9" />
<line x1="60.30" y1="353.24" x2="63.30" y2="353.24" stroke="#3a3a3a" stroke-width="0.9" />
<line x1="60.30" y1="351.90" x2="63.30" y2="351.90" stroke="#3a3a3a" stroke-width="0.9" />
<line x1="60.30" y1="350.72" x2="63.30" y2="350.72" stroke="#3a3a3a" stroke-width="0.9" />
<line x1="60.30" y1="349.67" x2="64.80" y2="349.67" stroke="#3a3a3a" stroke-width="0.9" />
<line x1="60.30" y1="342.73" x2="63.30" y2="342.73" stroke="#3a3a3a" stroke-width="0.9" />
<line x1="60.30" y1="338.67" x2="63.30" y2="338.67" stroke="#3a3a3a" stroke-width="0.9" />
<line x1="60.30" y1="335.79" x2="63.30" y2="335.79" stroke="#3a3a3a" stroke-width="0.9" />
<line x1="60.30" y1="333.55" x2="63.30" y2="333.55" stroke="#3a3a3a" stroke-width="0.9" />
<line x1="60.30" y1="331.73" x2="63.30" y2="331.73" stroke="#3a3a3a" stroke-width="0.9" />
<line x1="60.30" y1="330.18" x2="63.30" y2="330.18" stroke="#3a3a3a" stroke-width="0.9" />
<line x1="60.30" y1="328.85" x2="63.30" y2="328.85" stroke="#3a3a3a" stroke-width="0.9" />
<line x1="60.30" y1="327.67" x2="63.30" y2="327.67" stroke="#3a3a3a" stroke-width="0.9" />
<line x1="60.30" y1="326.61" x2="64.80" y2="326.61" stroke="#3a3a3a" stroke-width="0.9" />
<line x1="60.30" y1="319.67" x2="63.30" y2="319.67" stroke="#3a3a3a" stroke-width="0.9" />
<line x1="60.30" y1="315.61" x2="63.30" y2="315.61" stroke="#3a3a3a" stroke-width="0.9" />
<line x1="60.30" y1="312.73" x2="63.30" y2="312.73" stroke="#3a3a3a" stroke-width="0.9" />
<line x1="60.30" y1="310.50" x2="63.30" y2="310.50" stroke="#3a3a3a" stroke-width="0.9" />
<line x1="60.30" y1="308.67" x2="63.30" y2="308.67" stroke="#3a3a3a" stroke-width="0.9" />
<line x1="60.30" y1="307.13" x2="63.30" y2="307.13" stroke="#3a3a3a" stroke-width="0.9" />
<line x1="60.30" y1="305.79" x2="63.30" y2="305.79" stroke="#3a3a3a" stroke-width="0.9" />
<line x1="60.30" y1="304.61" x2="63.30" y2="304.61" stroke="#3a3a3a" stroke-width="0.9" />
<line x1="60.30" y1="303.56" x2="64.80" y2="303.56" stroke="#3a3a3a" stroke-width="0.9" />
<line x1="60.30" y1="296.62" x2="63.30" y2="296.62" stroke="#3a3a3a" stroke-width="0.9" />
<line x1="60.30" y1="292.56" x2="63.30" y2="292.56" stroke="#3a3a3a" stroke-width="0.9" />
<line x1="60.30" y1="289.67" x2="63.30" y2="289.67" stroke="#3a3a3a" stroke-width="0.9" />
<line x1="60.30" y1="287.44" x2="63.30" y2="287.44" stroke="#3a3a3a" stroke-width="0.9" />
<line x1="60.30" y1="285.61" x2="63.30" y2="285.61" stroke="#3a3a3a" stroke-width="0.9" />
<line x1="60.30" y1="284.07" x2="63.30" y2="284.07" stroke="#3a3a3a" stroke-width="0.9" />
<line x1="60.30" y1="282.73" x2="63.30" y2="282.73" stroke="#3a3a3a" stroke-width="0.9" />
<line x1="60.30" y1="281.55" x2="63.30" y2="281.55" stroke="#3a3a3a" stroke-width="0.9" />
<line x1="60.30" y1="280.50" x2="64.80" y2="280.50" stroke="#3a3a3a" stroke-width="0.8" />
<line x1="60.30" y1="488.00" x2="60.30" y2="483.50" stroke="#3a3a3a" stroke-width="0.9" />
<line x1="74.95" y1="488.00" x2="74.95" y2="485.00" stroke="#3a3a3a" stroke-width="0.9" />
<line x1="83.52" y1="488.00" x2="83.52" y2="485.00" stroke="#3a3a3a" stroke-width="0.9" />
<line x1="89.60" y1="488.00" x2="89.60" y2="485.00" stroke="#3a3a3a" stroke-width="0.9" />
<line x1="94.31" y1="488.00" x2="94.31" y2="485.00" stroke="#3a3a3a" stroke-width="0.9" />
<line x1="98.16" y1="488.00" x2="98.16" y2="485.00" stroke="#3a3a3a" stroke-width="0.9" />
<line x1="101.42" y1="488.00" x2="101.42" y2="485.00" stroke="#3a3a3a" stroke-width="0.9" />
<line x1="104.24" y1="488.00" x2="104.24" y2="485.00" stroke="#3a3a3a" stroke-width="0.9" />
<line x1="106.73" y1="488.00" x2="106.73" y2="485.00" stroke="#3a3a3a" stroke-width="0.9" />
<line x1="108.96" y1="488.00" x2="108.96" y2="483.50" stroke="#3a3a3a" stroke-width="0.9" />
<line x1="123.61" y1="488.00" x2="123.61" y2="485.00" stroke="#3a3a3a" stroke-width="0.9" />
<line x1="132.18" y1="488.00" x2="132.18" y2="485.00" stroke="#3a3a3a" stroke-width="0.9" />
<line x1="138.26" y1="488.00" x2="138.26" y2="485.00" stroke="#3a3a3a" stroke-width="0.9" />
<line x1="142.97" y1="488.00" x2="142.97" y2="485.00" stroke="#3a3a3a" stroke-width="0.9" />
<line x1="146.82" y1="488.00" x2="146.82" y2="485.00" stroke="#3a3a3a" stroke-width="0.9" />
<line x1="150.08" y1="488.00" x2="150.08" y2="485.00" stroke="#3a3a3a" stroke-width="0.9" />
<line x1="152.90" y1="488.00" x2="152.90" y2="485.00" stroke="#3a3a3a" stroke-width="0.9" />
<line x1="155.39" y1="488.00" x2="155.39" y2="485.00" stroke="#3a3a3a" stroke-width="0.9" />
<line x1="157.62" y1="488.00" x2="157.62" y2="483.50" stroke="#3a3a3a" stroke-width="0.9" />
<line x1="172.27" y1="488.00" x2="172.27" y2="485.00" stroke="#3a3a3a" stroke-width="0.9" />
<line x1="180.84" y1="488.00" x2="180.84" y2="485.00" stroke="#3a3a3a" stroke-width="0.9" />
<line x1="186.92" y1="488.00" x2="186.92" y2="485.00" stroke="#3a3a3a" stroke-width="0.9" />
<line x1="191.63" y1="488.00" x2="191.63" y2="485.00" stroke="#3a3a3a" stroke-width="0.9" />
<line x1="195.48" y1="488.00" x2="195.48" y2="485.00" stroke="#3a3a3a" stroke-width="0.9" />
<line x1="198.74" y1="488.00" x2="198.74" y2="485.00" stroke="#3a3a3a" stroke-width="0.9" />
<line x1="201.56" y1="488.00" x2="201.56" y2="485.00" stroke="#3a3a3a" stroke-width="0.9" />
<line x1="204.05" y1="488.00" x2="204.05" y2="485.00" stroke="#3a3a3a" stroke-width="0.9" />
<line x1="206.28" y1="488.00" x2="206.28" y2="483.50" stroke="#3a3a3a" stroke-width="0.9" />
<line x1="220.93" y1="488.00" x2="220.93" y2="485.00" stroke="#3a3a3a" stroke-width="0.9" />
<line x1="229.50" y1="488.00" x2="229.50" y2="485.00" stroke="#3a3a3a" stroke-width="0.9" />
<line x1="235.58" y1="488.00" x2="235.58" y2="485.00" stroke="#3a3a3a" stroke-width="0.9" />
<line x1="240.29" y1="488.00" x2="240.29" y2="485.00" stroke="#3a3a3a" stroke-width="0.9" />
<line x1="244.14" y1="488.00" x2="244.14" y2="485.00" stroke="#3a3a3a" stroke-width="0.9" />
<line x1="247.40" y1="488.00" x2="247.40" y2="485.00" stroke="#3a3a3a" stroke-width="0.9" />
<line x1="250.22" y1="488.00" x2="250.22" y2="485.00" stroke="#3a3a3a" stroke-width="0.9" />
<line x1="252.71" y1="488.00" x2="252.71" y2="485.00" stroke="#3a3a3a" stroke-width="0.9" />
<line x1="254.94" y1="488.00" x2="254.94" y2="483.50" stroke="#3a3a3a" stroke-width="0.9" />
<line x1="269.59" y1="488.00" x2="269.59" y2="485.00" stroke="#3a3a3a" stroke-width="0.9" />
<line x1="278.16" y1="488.00" x2="278.16" y2="485.00" stroke="#3a3a3a" stroke-width="0.9" />
<line x1="284.24" y1="488.00" x2="284.24" y2="485.00" stroke="#3a3a3a" stroke-width="0.9" />
<line x1="288.95" y1="488.00" x2="288.95" y2="485.00" stroke="#3a3a3a" stroke-width="0.9" />
<line x1="292.80" y1="488.00" x2="292.80" y2="485.00" stroke="#3a3a3a" stroke-width="0.9" />
<line x1="296.06" y1="488.00" x2="296.06" y2="485.00" stroke="#3a3a3a" stroke-width="0.9" />
<line x1="298.88" y1="488.00" x2="298.88" y2="485.00" stroke="#3a3a3a" stroke-width="0.9" />
<line x1="301.37" y1="488.00" x2="301.37" y2="485.00" stroke="#3a3a3a" stroke-width="0.9" />
<text x="50.60" y="491.40" font-family="'Liberation Serif', serif" font-size="10" font-weight="bold" text-anchor="end" fill="#111" stroke="#111" stroke-width="0.3" textLength="11.60" lengthAdjust="spacingAndGlyphs" >10</text>
<text x="51.20" y="486.80" font-family="'Liberation Serif', serif" font-size="7.7" font-weight="bold" text-anchor="start" fill="#111" stroke="#111" stroke-width="0.3" textLength="4.04" lengthAdjust="spacingAndGlyphs" >0</text>
<text x="50.60" y="468.34" font-family="'Liberation Serif', serif" font-size="10" font-weight="bold" text-anchor="end" fill="#111" stroke="#111" stroke-width="0.3" textLength="11.60" lengthAdjust="spacingAndGlyphs" >10</text>
<text x="51.20" y="463.74" font-family="'Liberation Serif', serif" font-size="7.7" font-weight="bold" text-anchor="start" fill="#111" stroke="#111" stroke-width="0.3" textLength="4.04" lengthAdjust="spacingAndGlyphs" >1</text>
<text x="50.60" y="445.29" font-family="'Liberation Serif', serif" font-size="10" font-weight="bold" text-anchor="end" fill="#111" stroke="#111" stroke-width="0.3" textLength="11.60" lengthAdjust="spacingAndGlyphs" >10</text>
<text x="51.20" y="440.69" font-family="'Liberation Serif', serif" font-size="7.7" font-weight="bold" text-anchor="start" fill="#111" stroke="#111" stroke-width="0.3" textLength="4.04" lengthAdjust="spacingAndGlyphs" >2</text>
<text x="50.60" y="422.23" font-family="'Liberation Serif', serif" font-size="10" font-weight="bold" text-anchor="end" fill="#111" stroke="#111" stroke-width="0.3" textLength="11.60" lengthAdjust="spacingAndGlyphs" >10</text>
<text x="51.20" y="417.63" font-family="'Liberation Serif', serif" font-size="7.7" font-weight="bold" text-anchor="start" fill="#111" stroke="#111" stroke-width="0.3" textLength="4.04" lengthAdjust="spacingAndGlyphs" >3</text>
<text x="50.60" y="399.18" font-family="'Liberation Serif', serif" font-size="10" font-weight="bold" text-anchor="end" fill="#111" stroke="#111" stroke-width="0.3" textLength="11.60" lengthAdjust="spacingAndGlyphs" >10</text>
<text x="51.20" y="394.58" font-family="'Liberation Serif', serif" font-size="7.7" font-weight="bold" text-anchor="start" fill="#111" stroke="#111" stroke-width="0.3" textLength="4.04" lengthAdjust="spacingAndGlyphs" >4</text>
<text x="50.60" y="376.12" font-family="'Liberation Serif', serif" font-size="10" font-weight="bold" text-anchor="end" fill="#111" stroke="#111" stroke-width="0.3" textLength="11.60" lengthAdjust="spacingAndGlyphs" >10</text>
<text x="51.20" y="371.52" font-family="'Liberation Serif', serif" font-size="7.7" font-weight="bold" text-anchor="start" fill="#111" stroke="#111" stroke-width="0.3" textLength="4.04" lengthAdjust="spacingAndGlyphs" >5</text>
<text x="50.60" y="353.07" font-family="'Liberation Serif', serif" font-size="10" font-weight="bold" text-anchor="end" fill="#111" stroke="#111" stroke-width="0.3" textLength="11.60" lengthAdjust="spacingAndGlyphs" >10</text>
<text x="51.20" y="348.47" font-family="'Liberation Serif', serif" font-size="7.7" font-weight="bold" text-anchor="start" fill="#111" stroke="#111" stroke-width="0.3" textLength="4.04" lengthAdjust="spacingAndGlyphs" >6</text>
<text x="50.60" y="330.01" font-family="'Liberation Serif', serif" font-size="10" font-weight="bold" text-anchor="end" fill="#111" stroke="#111" stroke-width="0.3" textLength="11.60" lengthAdjust="spacingAndGlyphs" >10</text>
<text x="51.20" y="325.41" font-family="'Liberation Serif', serif" font-size="7.7" font-weight="bold" text-anchor="start" fill="#111" stroke="#111" stroke-width="0.3" textLength="4.04" lengthAdjust="spacingAndGlyphs" >7</text>
<text x="50.60" y="306.96" font-family="'Liberation Serif', serif" font-size="10" font-weight="bold" text-anchor="end" fill="#111" stroke="#111" stroke-width="0.3" textLength="11.60" lengthAdjust="spacingAndGlyphs" >10</text>
<text x="51.20" y="302.36" font-family="'Liberation Serif', serif" font-size="7.7" font-weight="bold" text-anchor="start" fill="#111" stroke="#111" stroke-width="0.3" textLength="4.04" lengthAdjust="spacingAndGlyphs" >8</text>
<text x="50.60" y="283.90" font-family="'Liberation Serif', serif" font-size="10" font-weight="bold" text-anchor="end" fill="#111" stroke="#111" stroke-width="0.3" textLength="11.60" lengthAdjust="spacingAndGlyphs" >10</text>
<text x="51.20" y="279.30" font-family="'Liberation Serif', serif" font-size="7.7" font-weight="bold" text-anchor="start" fill="#111" stroke="#111" stroke-width="0.3" textLength="4.04" lengthAdjust="spacingAndGlyphs" >9</text>
<text x="50.99" y="503.50" font-family="'Liberation Serif', serif" font-size="10" font-weight="bold" text-anchor="start" fill="#111" stroke="#111" stroke-width="0.3" textLength="11.60" lengthAdjust="spacingAndGlyphs" >10</text>
<text x="63.19" y="499.20" font-family="'Liberation Serif', serif" font-size="7" font-weight="bold" text-anchor="start" fill="#111" stroke="#111" stroke-width="0.3" textLength="6.41" lengthAdjust="spacingAndGlyphs" >-1</text>
<text x="100.94" y="503.50" font-family="'Liberation Serif', serif" font-size="10" font-weight="bold" text-anchor="start" fill="#111" stroke="#111" stroke-width="0.3" textLength="11.60" lengthAdjust="spacingAndGlyphs" >10</text>
<text x="113.14" y="499.20" font-family="'Liberation Serif', serif" font-size="7" font-weight="bold" text-anchor="start" fill="#111" stroke="#111" stroke-width="0.3" textLength="3.85" lengthAdjust="spacingAndGlyphs" >0</text>
<text x="149.59" y="503.50" font-family="'Liberation Serif', serif" font-size="10" font-weight="bold" text-anchor="start" fill="#111" stroke="#111" stroke-width="0.3" textLength="11.60" lengthAdjust="spacingAndGlyphs" >10</text>
<text x="161.79" y="499.20" font-family="'Liberation Serif', serif" font-size="7" font-weight="bold" text-anchor="start" fill="#111" stroke="#111" stroke-width="0.3" textLength="3.85" lengthAdjust="spacingAndGlyphs" >1</text>
<text x="198.25" y="503.50" font-family="'Liberation Serif', serif" font-size="10" font-weight="bold" text-anchor="start" fill="#111" stroke="#111" stroke-width="0.3" textLength="11.60" lengthAdjust="spacingAndGlyphs" >10</text>
<text x="210.45" y="499.20" font-family="'Liberation Serif', serif" font-size="7" font-weight="bold" text-anchor="start" fill="#111" stroke="#111" stroke-width="0.3" textLength="3.85" lengthAdjust="spacingAndGlyphs" >2</text>
<text x="246.91" y="503.50" font-family="'Liberation Serif', serif" font-size="10" font-weight="bold" text-anchor="start" fill="#111" stroke="#111" stroke-width="0.3" textLength="11.60" lengthAdjust="spacingAndGlyphs" >10</text>
<text x="259.12" y="499.20" font-family="'Liberation Serif', serif" font-size="7" font-weight="bold" text-anchor="start" fill="#111" stroke="#111" stroke-width="0.3" textLength="3.85" lengthAdjust="spacingAndGlyphs" >3</text>
<text x="295.58" y="503.50" font-family="'Liberation Serif', serif" font-size="10" font-weight="bold" text-anchor="start" fill="#111" stroke="#111" stroke-width="0.3" textLength="11.60" lengthAdjust="spacingAndGlyphs" >10</text>
<text x="307.78" y="499.20" font-family="'Liberation Serif', serif" font-size="7" font-weight="bold" text-anchor="start" fill="#111" stroke="#111" stroke-width="0.3" textLength="3.85" lengthAdjust="spacingAndGlyphs" >4</text>
<text x="134.10" y="521.10" font-family="'Liberation Serif', serif" font-size="12.4" font-weight="bold" text-anchor="start" fill="#111" stroke="#111" stroke-width="0.3" textLength="94.20" lengthAdjust="spacingAndGlyphs" >Frequency (Hz)</text>
<text x="27.40" y="386.60" font-family="'Liberation Serif', serif" font-size="12.6" font-weight="bold" text-anchor="middle" fill="#111" stroke="#111" stroke-width="0.3" textLength="67.20" lengthAdjust="spacingAndGlyphs"  transform="rotate(-90 27.40 386.60)">|Z| ohm cm2</text>
<text x="3.20" y="286.00" font-family="'Liberation Serif', serif" font-size="18.5" font-weight="bold" text-anchor="start" fill="#111" stroke="#111" stroke-width="0.3" textLength="20.00" lengthAdjust="spacingAndGlyphs" >(c)</text>
<polyline points="69.90,457.20 84.50,460.70 99.10,464.20 113.70,466.70 128.30,469.90 142.90,472.30 157.50,474.20 172.10,475.60 186.70,476.40 201.30,476.90 215.90,477.50 230.50,478.00 245.10,478.30 259.70,478.30 274.30,478.50" fill="none" stroke="#000000" stroke-width="1.0" stroke-linejoin="round" stroke-linecap="round" />
<polyline points="69.90,360.00 84.50,362.60 99.10,363.70 113.70,368.80 128.30,374.30 142.90,380.00 157.50,383.60 172.10,385.50 186.70,386.20 201.30,386.20 215.90,386.20 230.50,386.90 245.10,388.70 259.70,391.30 274.30,394.20" fill="none" stroke="#ff0000" stroke-width="1.0" stroke-linejoin="round" stroke-linecap="round" />
<polyline points="69.90,335.20 84.50,335.60 99.10,336.00 113.70,336.00 128.30,336.30 142.90,336.30 157.50,336.70 172.10,337.00 186.70,339.30 201.30,341.80 215.90,345.50 230.50,350.30 245.10,356.10 259.70,361.90 274.30,368.50" fill="none" stroke="#0000ff" stroke-width="1.0" stroke-linejoin="round" stroke-linecap="round" />
<polyline points="69.90,325.00 84.50,325.00 99.10,325.40 113.70,325.70 128.30,326.10 142.90,326.50 157.50,327.60 172.10,329.40 186.70,333.10 201.30,337.10 215.90,341.50 230.50,346.20 245.10,351.30 259.70,357.20 274.30,364.50" fill="none" stroke="#008000" stroke-width="1.0" stroke-linejoin="round" stroke-linecap="round" />
<polyline points="69.90,296.20 84.50,296.20 99.10,297.60 113.70,300.20 128.30,304.60 142.90,310.00 157.50,315.50 172.10,321.70 186.70,328.00 201.30,333.50 215.90,338.90 230.50,345.10 245.10,351.70 259.70,357.90 274.30,363.80" fill="none" stroke="#800080" stroke-width="1.0" stroke-linejoin="round" stroke-linecap="round" />
<rect x="67.10" y="454.40" width="5.60" height="5.60" fill="#000000"/>
<rect x="81.70" y="457.90" width="5.60" height="5.60" fill="#000000"/>
<rect x="96.30" y="461.40" width="5.60" height="5.60" fill="#000000"/>
<rect x="110.90" y="463.90" width="5.60" height="5.60" fill="#000000"/>
<rect x="125.50" y="467.10" width="5.60" height="5.60" fill="#000000"/>
<rect x="140.10" y="469.50" width="5.60" height="5.60" fill="#000000"/>
<rect x="154.70" y="471.40" width="5.60" height="5.60" fill="#000000"/>
<rect x="169.30" y="472.80" width="5.60" height="5.60" fill="#000000"/>
<rect x="183.90" y="473.60" width="5.60" height="5.60" fill="#000000"/>
<rect x="198.50" y="474.10" width="5.60" height="5.60" fill="#000000"/>
<rect x="213.10" y="474.70" width="5.60" height="5.60" fill="#000000"/>
<rect x="227.70" y="475.20" width="5.60" height="5.60" fill="#000000"/>
<rect x="242.30" y="475.50" width="5.60" height="5.60" fill="#000000"/>
<rect x="256.90" y="475.50" width="5.60" height="5.60" fill="#000000"/>
<rect x="271.50" y="475.70" width="5.60" height="5.60" fill="#000000"/>
<rect x="67.10" y="357.20" width="5.60" height="5.60" fill="#ff0000"/>
<rect x="81.70" y="359.80" width="5.60" height="5.60" fill="#ff0000"/>
<rect x="96.30" y="360.90" width="5.60" height="5.60" fill="#ff0000"/>
<rect x="110.90" y="366.00" width="5.60" height="5.60" fill="#ff0000"/>
<rect x="125.50" y="371.50" width="5.60" height="5.60" fill="#ff0000"/>
<rect x="140.10" y="377.20" width="5.60" height="5.60" fill="#ff0000"/>
<rect x="154.70" y="380.80" width="5.60" height="5.60" fill="#ff0000"/>
<rect x="169.30" y="382.70" width="5.60" height="5.60" fill="#ff0000"/>
<rect x="183.90" y="383.40" width="5.60" height="5.60" fill="#ff0000"/>
<rect x="198.50" y="383.40" width="5.60" height="5.60" fill="#ff0000"/>
<rect x="213.10" y="383.40" width="5.60" height="5.60" fill="#ff0000"/>
<rect x="227.70" y="384.10" width="5.60" height="5.60" fill="#ff0000"/>
<rect x="242.30" y="385.90" width="5.60" height="5.60" fill="#ff0000"/>
<rect x="256.90" y="388.50" width="5.60" height="5.60" fill="#ff0000"/>
<rect x="271.50" y="391.40" width="5.60" height="5.60" fill="#ff0000"/>
<ellipse cx="69.90" cy="335.20" rx="3.00" ry="2.70" fill="#0000ff"/>
<ellipse cx="84.50" cy="335.60" rx="3.00" ry="2.70" fill="#0000ff"/>
<ellipse cx="99.10" cy="336.00" rx="3.00" ry="2.70" fill="#0000ff"/>
<ellipse cx="113.70" cy="336.00" rx="3.00" ry="2.70" fill="#0000ff"/>
<ellipse cx="128.30" cy="336.30" rx="3.00" ry="2.70" fill="#0000ff"/>
<ellipse cx="142.90" cy="336.30" rx="3.00" ry="2.70" fill="#0000ff"/>
<ellipse cx="157.50" cy="336.70" rx="3.00" ry="2.70" fill="#0000ff"/>
<ellipse cx="172.10" cy="337.00" rx="3.00" ry="2.70" fill="#0000ff"/>
<ellipse cx="186.70" cy="339.30" rx="3.00" ry="2.70" fill="#0000ff"/>
<ellipse cx="201.30" cy="341.80" rx="3.00" ry="2.70" fill="#0000ff"/>
<ellipse cx="215.90" cy="345.50" rx="3.00" ry="2.70" fill="#0000ff"/>
<ellipse cx="230.50" cy="350.30" rx="3.00" ry="2.70" fill="#0000ff"/>
<ellipse cx="245.10" cy="356.10" rx="3.00" ry="2.70" fill="#0000ff"/>
<ellipse cx="259.70" cy="361.90" rx="3.00" ry="2.70" fill="#0000ff"/>
<ellipse cx="274.30" cy="368.50" rx="3.00" ry="2.70" fill="#0000ff"/>
<ellipse cx="69.90" cy="325.00" rx="3.00" ry="2.70" fill="#008000"/>
<ellipse cx="84.50" cy="325.00" rx="3.00" ry="2.70" fill="#008000"/>
<ellipse cx="99.10" cy="325.40" rx="3.00" ry="2.70" fill="#008000"/>
<ellipse cx="113.70" cy="325.70" rx="3.00" ry="2.70" fill="#008000"/>
<ellipse cx="128.30" cy="326.10" rx="3.00" ry="2.70" fill="#008000"/>
<ellipse cx="142.90" cy="326.50" rx="3.00" ry="2.70" fill="#008000"/>
<ellipse cx="157.50" cy="327.60" rx="3.00" ry="2.70" fill="#008000"/>
<ellipse cx="172.10" cy="329.40" rx="3.00" ry="2.70" fill="#008000"/>
<ellipse cx="186.70" cy="333.10" rx="3.00" ry="2.70" fill="#008000"/>
<ellipse cx="201.30" cy="337.10" rx="3.00" ry="2.70" fill="#008000"/>
<ellipse cx="215.90" cy="341.50" rx="3.00" ry="2.70" fill="#008000"/>
<ellipse cx="230.50" cy="346.20" rx="3.00" ry="2.70" fill="#008000"/>
<ellipse cx="245.10" cy="351.30" rx="3.00" ry="2.70" fill="#008000"/>
<ellipse cx="259.70" cy="357.20" rx="3.00" ry="2.70" fill="#008000"/>
<ellipse cx="274.30" cy="364.50" rx="3.00" ry="2.70" fill="#008000"/>
<path d="M66.70,293.60 L73.10,293.60 L69.90,299.00Z" fill="#800080"/>
<path d="M81.30,293.60 L87.70,293.60 L84.50,299.00Z" fill="#800080"/>
<path d="M95.90,295.00 L102.30,295.00 L99.10,300.40Z" fill="#800080"/>
<path d="M110.50,297.60 L116.90,297.60 L113.70,303.00Z" fill="#800080"/>
<path d="M125.10,302.00 L131.50,302.00 L128.30,307.40Z" fill="#800080"/>
<path d="M139.70,307.40 L146.10,307.40 L142.90,312.80Z" fill="#800080"/>
<path d="M154.30,312.90 L160.70,312.90 L157.50,318.30Z" fill="#800080"/>
<path d="M168.90,319.10 L175.30,319.10 L172.10,324.50Z" fill="#800080"/>
<path d="M183.50,325.40 L189.90,325.40 L186.70,330.80Z" fill="#800080"/>
<path d="M198.10,330.90 L204.50,330.90 L201.30,336.30Z" fill="#800080"/>
<path d="M212.70,336.30 L219.10,336.30 L215.90,341.70Z" fill="#800080"/>
<path d="M227.30,342.50 L233.70,342.50 L230.50,347.90Z" fill="#800080"/>
<path d="M241.90,349.10 L248.30,349.10 L245.10,354.50Z" fill="#800080"/>
<path d="M256.50,355.30 L262.90,355.30 L259.70,360.70Z" fill="#800080"/>
<path d="M271.10,361.20 L277.50,361.20 L274.30,366.60Z" fill="#800080"/>
<line x1="218.30" y1="288.90" x2="243.90" y2="288.90" stroke="#888888" stroke-width="1.0" />
<rect x="228.10" y="286.10" width="5.60" height="5.60" fill="#000000"/>
<text x="250.60" y="291.90" font-family="'Liberation Serif', serif" font-size="9" font-weight="bold" text-anchor="start" fill="#111" stroke="#111" stroke-width="0.3" textLength="49.45" lengthAdjust="spacingAndGlyphs" >Mild Steel</text>
<line x1="218.30" y1="299.83" x2="243.90" y2="299.83" stroke="#ff6666" stroke-width="1.0" />
<rect x="228.10" y="297.03" width="5.60" height="5.60" fill="#ff0000"/>
<text x="250.60" y="302.83" font-family="'Liberation Serif', serif" font-size="9" font-weight="bold" text-anchor="start" fill="#111" stroke="#111" stroke-width="0.3" textLength="23.94" lengthAdjust="spacingAndGlyphs" >BCN</text>
<line x1="218.30" y1="310.76" x2="243.90" y2="310.76" stroke="#6666ff" stroke-width="1.0" />
<ellipse cx="230.90" cy="310.76" rx="3.00" ry="2.70" fill="#0000ff"/>
<text x="250.60" y="313.76" font-family="'Liberation Serif', serif" font-size="9" font-weight="bold" text-anchor="start" fill="#111" stroke="#111" stroke-width="0.3" textLength="50.40" lengthAdjust="spacingAndGlyphs" >BCN - Mn</text>
<line x1="218.30" y1="321.69" x2="243.90" y2="321.69" stroke="#44a044" stroke-width="1.0" />
<ellipse cx="230.90" cy="321.69" rx="3.00" ry="2.70" fill="#008000"/>
<text x="250.60" y="324.69" font-family="'Liberation Serif', serif" font-size="9" font-weight="bold" text-anchor="start" fill="#111" stroke="#111" stroke-width="0.3" textLength="44.73" lengthAdjust="spacingAndGlyphs" >BCN - Ni</text>
<line x1="218.30" y1="332.62" x2="243.90" y2="332.62" stroke="#a050a0" stroke-width="1.0" />
<path d="M227.70,330.02 L234.10,330.02 L230.90,335.42Z" fill="#800080"/>
<text x="250.60" y="335.62" font-family="'Liberation Serif', serif" font-size="9" font-weight="bold" text-anchor="start" fill="#111" stroke="#111" stroke-width="0.3" textLength="47.25" lengthAdjust="spacingAndGlyphs" >BCN - Co</text>
<rect x="395.5" y="270.7" width="269.79999999999995" height="214.40000000000003" fill="none" stroke="#666" stroke-width="1.1"/>
<line x1="395.50" y1="485.10" x2="400.50" y2="485.10" stroke="#3a3a3a" stroke-width="0.9" />
<line x1="395.50" y1="485.10" x2="395.50" y2="480.10" stroke="#3a3a3a" stroke-width="0.9" />
<line x1="395.50" y1="458.30" x2="399.50" y2="458.30" stroke="#3a3a3a" stroke-width="0.9" />
<line x1="429.23" y1="485.10" x2="429.23" y2="481.10" stroke="#3a3a3a" stroke-width="0.9" />
<line x1="395.50" y1="431.50" x2="400.50" y2="431.50" stroke="#3a3a3a" stroke-width="0.9" />
<line x1="462.95" y1="485.10" x2="462.95" y2="480.10" stroke="#3a3a3a" stroke-width="0.9" />
<line x1="395.50" y1="404.70" x2="399.50" y2="404.70" stroke="#3a3a3a" stroke-width="0.9" />
<line x1="496.67" y1="485.10" x2="496.67" y2="481.10" stroke="#3a3a3a" stroke-width="0.9" />
<line x1="395.50" y1="377.90" x2="400.50" y2="377.90" stroke="#3a3a3a" stroke-width="0.9" />
<line x1="530.40" y1="485.10" x2="530.40" y2="480.10" stroke="#3a3a3a" stroke-width="0.9" />
<line x1="395.50" y1="351.10" x2="399.50" y2="351.10" stroke="#3a3a3a" stroke-width="0.9" />
<line x1="564.12" y1="485.10" x2="564.12" y2="481.10" stroke="#3a3a3a" stroke-width="0.9" />
<line x1="395.50" y1="324.30" x2="400.50" y2="324.30" stroke="#3a3a3a" stroke-width="0.9" />
<line x1="597.85" y1="485.10" x2="597.85" y2="480.10" stroke="#3a3a3a" stroke-width="0.9" />
<line x1="395.50" y1="297.50" x2="399.50" y2="297.50" stroke="#3a3a3a" stroke-width="0.9" />
<line x1="631.57" y1="485.10" x2="631.57" y2="481.10" stroke="#3a3a3a" stroke-width="0.9" />
<line x1="395.50" y1="270.70" x2="400.50" y2="270.70" stroke="#3a3a3a" stroke-width="0.9" />
<line x1="665.30" y1="485.10" x2="665.30" y2="480.10" stroke="#3a3a3a" stroke-width="0.9" />
<text x="387.00" y="274.40" font-family="'Liberation Serif', serif" font-size="10.5" font-weight="bold" text-anchor="end" fill="#111" stroke="#111" stroke-width="0.3" textLength="34.49" lengthAdjust="spacingAndGlyphs" >-2.0e8</text>
<text x="387.00" y="328.00" font-family="'Liberation Serif', serif" font-size="10.5" font-weight="bold" text-anchor="end" fill="#111" stroke="#111" stroke-width="0.3" textLength="34.49" lengthAdjust="spacingAndGlyphs" >-1.5e8</text>
<text x="387.00" y="381.60" font-family="'Liberation Serif', serif" font-size="10.5" font-weight="bold" text-anchor="end" fill="#111" stroke="#111" stroke-width="0.3" textLength="34.49" lengthAdjust="spacingAndGlyphs" >-1.0e8</text>
<text x="387.00" y="435.20" font-family="'Liberation Serif', serif" font-size="10.5" font-weight="bold" text-anchor="end" fill="#111" stroke="#111" stroke-width="0.3" textLength="34.49" lengthAdjust="spacingAndGlyphs" >-5.0e7</text>
<text x="387.00" y="488.80" font-family="'Liberation Serif', serif" font-size="10.5" font-weight="bold" text-anchor="end" fill="#111" stroke="#111" stroke-width="0.3" textLength="6.83" lengthAdjust="spacingAndGlyphs" >0</text>
<text x="395.50" y="501.80" font-family="'Liberation Serif', serif" font-size="10.5" font-weight="bold" text-anchor="middle" fill="#111" stroke="#111" stroke-width="0.3" textLength="6.67" lengthAdjust="spacingAndGlyphs" >0</text>
<text x="462.95" y="501.80" font-family="'Liberation Serif', serif" font-size="10.5" font-weight="bold" text-anchor="middle" fill="#111" stroke="#111" stroke-width="0.3" textLength="29.25" lengthAdjust="spacingAndGlyphs" >5.0e7</text>
<text x="530.40" y="501.80" font-family="'Liberation Serif', serif" font-size="10.5" font-weight="bold" text-anchor="middle" fill="#111" stroke="#111" stroke-width="0.3" textLength="29.25" lengthAdjust="spacingAndGlyphs" >1.0e8</text>
<text x="597.85" y="501.80" font-family="'Liberation Serif', serif" font-size="10.5" font-weight="bold" text-anchor="middle" fill="#111" stroke="#111" stroke-width="0.3" textLength="29.25" lengthAdjust="spacingAndGlyphs" >1.5e8</text>
<text x="665.30" y="501.80" font-family="'Liberation Serif', serif" font-size="10.5" font-weight="bold" text-anchor="middle" fill="#111" stroke="#111" stroke-width="0.3" textLength="29.25" lengthAdjust="spacingAndGlyphs" >2.0e8</text>
<text x="347.00" y="377.00" font-family="'Liberation Serif', serif" font-size="15" font-weight="bold" text-anchor="middle" fill="#111" stroke="#111" stroke-width="0.3" textLength="69.50" lengthAdjust="spacingAndGlyphs"  transform="rotate(-90 347.00 377.00)">Z'' ohm cm2</text>
<text x="523.90" y="522.90" font-family="'Liberation Serif', serif" font-size="12.8" font-weight="bold" text-anchor="start" fill="#111" stroke="#111" stroke-width="0.3" textLength="9.80" lengthAdjust="spacingAndGlyphs" >Z</text>
<text x="534.30" y="521.00" font-family="'Liberation Serif', serif" font-size="12" font-weight="bold" text-anchor="start" fill="#111" stroke="#111" stroke-width="0.3" textLength="4.00" lengthAdjust="spacingAndGlyphs" >'</text>
<text x="541.60" y="519.60" font-family="'Liberation Serif', serif" font-size="12.5" font-weight="bold" text-anchor="start" fill="#111" stroke="#111" stroke-width="0.3" textLength="28.80" lengthAdjust="spacingAndGlyphs" >ohm</text>
<text x="577.40" y="519.60" font-family="'Liberation Serif', serif" font-size="12.5" font-weight="bold" text-anchor="start" fill="#111" stroke="#111" stroke-width="0.3" textLength="27.90" lengthAdjust="spacingAndGlyphs" >cm2</text>
<text x="325.90" y="276.10" font-family="'Liberation Serif', serif" font-size="18.5" font-weight="bold" text-anchor="start" fill="#111" stroke="#111" stroke-width="0.3" textLength="22.00" lengthAdjust="spacingAndGlyphs" >(d)</text>
<polyline points="394.60,485.20 395.30,484.20 396.40,483.00 395.50,481.20 396.80,478.20 398.60,473.90 402.20,467.70 410.00,454.60 428.00,433.60 465.00,409.80 541.30,390.90 604.80,397.20 649.30,418.80 664.70,445.20" fill="none" stroke="#8a1a8a" stroke-width="1.0" stroke-linejoin="round" stroke-linecap="round" />
<rect x="429.2" y="278.3" width="129.3" height="73.19999999999999" fill="#fff" stroke="#555" stroke-width="1.0"/>
<line x1="429.20" y1="351.50" x2="429.20" y2="347.50" stroke="#3a3a3a" stroke-width="0.8" />
<line x1="454.25" y1="351.50" x2="454.25" y2="349.00" stroke="#3a3a3a" stroke-width="0.8" />
<line x1="479.30" y1="351.50" x2="479.30" y2="347.50" stroke="#3a3a3a" stroke-width="0.8" />
<line x1="504.35" y1="351.50" x2="504.35" y2="349.00" stroke="#3a3a3a" stroke-width="0.8" />
<line x1="529.40" y1="351.50" x2="529.40" y2="347.50" stroke="#3a3a3a" stroke-width="0.8" />
<line x1="554.45" y1="351.50" x2="554.45" y2="349.00" stroke="#3a3a3a" stroke-width="0.8" />
<line x1="429.20" y1="314.90" x2="431.70" y2="314.90" stroke="#3a3a3a" stroke-width="0.8" />
<polyline points="429.60,349.20 430.20,345.80 431.40,341.30 433.70,333.30 440.00,322.60 451.20,307.60 469.60,296.90 492.40,296.90 511.00,308.20 522.40,320.80 529.30,330.30 533.10,336.70 536.80,340.10 540.00,342.40 542.90,344.70" fill="none" stroke="#2e9a2e" stroke-width="1.0" stroke-linejoin="round" stroke-linecap="round" />
<polyline points="429.40,350.50 430.00,347.50 431.00,344.00 433.70,337.80 438.90,333.30 446.90,329.40 455.30,331.00 461.40,336.00 464.80,341.70 466.70,345.10 467.80,348.10 468.90,349.70 471.20,349.70" fill="none" stroke="#2a2ae8" stroke-width="1.0" stroke-linejoin="round" stroke-linecap="round" />
<ellipse cx="429.60" cy="349.20" rx="2.04" ry="1.84" fill="#0f800f"/>
<ellipse cx="430.20" cy="345.80" rx="2.04" ry="1.84" fill="#0f800f"/>
<ellipse cx="431.40" cy="341.30" rx="2.04" ry="1.84" fill="#0f800f"/>
<ellipse cx="433.70" cy="333.30" rx="2.04" ry="1.84" fill="#0f800f"/>
<ellipse cx="440.00" cy="322.60" rx="2.04" ry="1.84" fill="#0f800f"/>
<ellipse cx="451.20" cy="307.60" rx="2.04" ry="1.84" fill="#0f800f"/>
<ellipse cx="469.60" cy="296.90" rx="2.04" ry="1.84" fill="#0f800f"/>
<ellipse cx="492.40" cy="296.90" rx="2.04" ry="1.84" fill="#0f800f"/>
<ellipse cx="511.00" cy="308.20" rx="2.04" ry="1.84" fill="#0f800f"/>
<ellipse cx="522.40" cy="320.80" rx="2.04" ry="1.84" fill="#0f800f"/>
<ellipse cx="529.30" cy="330.30" rx="2.04" ry="1.84" fill="#0f800f"/>
<ellipse cx="533.10" cy="336.70" rx="2.04" ry="1.84" fill="#0f800f"/>
<ellipse cx="536.80" cy="340.10" rx="2.04" ry="1.84" fill="#0f800f"/>
<ellipse cx="540.00" cy="342.40" rx="2.04" ry="1.84" fill="#0f800f"/>
<ellipse cx="542.90" cy="344.70" rx="2.04" ry="1.84" fill="#0f800f"/>
<ellipse cx="429.40" cy="350.50" rx="2.04" ry="1.84" fill="#0000ff"/>
<ellipse cx="430.00" cy="347.50" rx="2.04" ry="1.84" fill="#0000ff"/>
<ellipse cx="431.00" cy="344.00" rx="2.04" ry="1.84" fill="#0000ff"/>
<ellipse cx="433.70" cy="337.80" rx="2.04" ry="1.84" fill="#0000ff"/>
<ellipse cx="438.90" cy="333.30" rx="2.04" ry="1.84" fill="#0000ff"/>
<ellipse cx="446.90" cy="329.40" rx="2.04" ry="1.84" fill="#0000ff"/>
<ellipse cx="455.30" cy="331.00" rx="2.04" ry="1.84" fill="#0000ff"/>
<ellipse cx="461.40" cy="336.00" rx="2.04" ry="1.84" fill="#0000ff"/>
<ellipse cx="464.80" cy="341.70" rx="2.04" ry="1.84" fill="#0000ff"/>
<ellipse cx="466.70" cy="345.10" rx="2.04" ry="1.84" fill="#0000ff"/>
<ellipse cx="467.80" cy="348.10" rx="2.04" ry="1.84" fill="#0000ff"/>
<ellipse cx="468.90" cy="349.70" rx="2.04" ry="1.84" fill="#0000ff"/>
<ellipse cx="471.20" cy="349.70" rx="2.04" ry="1.84" fill="#0000ff"/>
<rect x="428.26" y="349.06" width="3.08" height="3.08" fill="#ff0000"/>
<rect x="429.66" y="348.76" width="3.08" height="3.08" fill="#ff0000"/>
<rect x="431.06" y="348.66" width="3.08" height="3.08" fill="#ff0000"/>
<text x="425.40" y="282.00" font-family="'Liberation Serif', serif" font-size="7.6" font-weight="normal" text-anchor="end" fill="#111" stroke="#111" stroke-width="0.18" textLength="12.10" lengthAdjust="spacingAndGlyphs" >-5e6</text>
<text x="425.30" y="354.10" font-family="'Liberation Serif', serif" font-size="8.5" font-weight="bold" text-anchor="end" fill="#111" stroke="#111" stroke-width="0.3" >0</text>
<text x="429.10" y="366.40" font-family="'Liberation Serif', serif" font-size="8.5" font-weight="bold" text-anchor="middle" fill="#111" stroke="#111" stroke-width="0.3" >0</text>
<text x="479.00" y="366.70" font-family="'Liberation Serif', serif" font-size="10" font-weight="bold" text-anchor="middle" fill="#111" stroke="#111" stroke-width="0.3" textLength="9.90" lengthAdjust="spacingAndGlyphs" >5e6</text>
<text x="529.20" y="366.70" font-family="'Liberation Serif', serif" font-size="10" font-weight="bold" text-anchor="middle" fill="#111" stroke="#111" stroke-width="0.3" textLength="9.90" lengthAdjust="spacingAndGlyphs" >1e7</text>
<text x="493.60" y="388.50" font-family="'Liberation Serif', serif" font-size="11" font-weight="bold" text-anchor="middle" fill="#111" stroke="#111" stroke-width="0.3" textLength="6.60" lengthAdjust="spacingAndGlyphs" >Z'</text>
<text x="411.00" y="319.20" font-family="'Liberation Serif', serif" font-size="8.8" font-weight="bold" text-anchor="middle" fill="#111" stroke="#111" stroke-width="0.3" textLength="60.50" lengthAdjust="spacingAndGlyphs"  transform="rotate(-90 411.00 319.20)">Z'' ohm cm2</text>
<ellipse cx="395.55" cy="484.93" rx="2.85" ry="2.56" fill="#0a7a0a"/>
<ellipse cx="395.63" cy="484.68" rx="2.85" ry="2.56" fill="#0a7a0a"/>
<ellipse cx="395.80" cy="484.35" rx="2.85" ry="2.56" fill="#0a7a0a"/>
<ellipse cx="396.11" cy="483.77" rx="2.85" ry="2.56" fill="#0a7a0a"/>
<ellipse cx="396.95" cy="482.98" rx="2.85" ry="2.56" fill="#0a7a0a"/>
<ellipse cx="398.46" cy="481.89" rx="2.85" ry="2.56" fill="#0a7a0a"/>
<ellipse cx="400.94" cy="481.10" rx="2.85" ry="2.56" fill="#0a7a0a"/>
<ellipse cx="404.01" cy="481.10" rx="2.85" ry="2.56" fill="#0a7a0a"/>
<ellipse cx="406.51" cy="481.93" rx="2.85" ry="2.56" fill="#0a7a0a"/>
<ellipse cx="408.05" cy="482.85" rx="2.85" ry="2.56" fill="#0a7a0a"/>
<ellipse cx="408.98" cy="483.55" rx="2.85" ry="2.56" fill="#0a7a0a"/>
<ellipse cx="409.49" cy="484.02" rx="2.85" ry="2.56" fill="#0a7a0a"/>
<ellipse cx="409.99" cy="484.27" rx="2.85" ry="2.56" fill="#0a7a0a"/>
<ellipse cx="410.42" cy="484.43" rx="2.85" ry="2.56" fill="#0a7a0a"/>
<ellipse cx="410.81" cy="484.60" rx="2.85" ry="2.56" fill="#0a7a0a"/>
<ellipse cx="401.1" cy="485.2" rx="3.2" ry="2.0" fill="#0000ff"/>
<ellipse cx="398.5" cy="485.0" rx="2.2" ry="2.0" fill="#0000ff"/>
<rect x="392.32" y="484.32" width="3.36" height="3.36" fill="#ff0000"/>
<rect x="391.68" y="484.68" width="2.24" height="2.24" fill="#1a1a1a"/>
<path d="M391.24,482.47 L397.96,482.47 L394.60,488.14Z" fill="#800080"/>
<path d="M391.94,481.47 L398.66,481.47 L395.30,487.14Z" fill="#800080"/>
<path d="M393.04,480.27 L399.76,480.27 L396.40,485.94Z" fill="#800080"/>
<path d="M392.14,478.47 L398.86,478.47 L395.50,484.14Z" fill="#800080"/>
<path d="M393.44,475.47 L400.16,475.47 L396.80,481.14Z" fill="#800080"/>
<path d="M395.24,471.17 L401.96,471.17 L398.60,476.84Z" fill="#800080"/>
<path d="M398.84,464.97 L405.56,464.97 L402.20,470.64Z" fill="#800080"/>
<path d="M406.64,451.87 L413.36,451.87 L410.00,457.54Z" fill="#800080"/>
<path d="M424.64,430.87 L431.36,430.87 L428.00,436.54Z" fill="#800080"/>
<path d="M461.64,407.07 L468.36,407.07 L465.00,412.74Z" fill="#800080"/>
<path d="M537.94,388.17 L544.66,388.17 L541.30,393.84Z" fill="#800080"/>
<path d="M601.44,394.47 L608.16,394.47 L604.80,400.14Z" fill="#800080"/>
<path d="M645.94,416.07 L652.66,416.07 L649.30,421.74Z" fill="#800080"/>
<path d="M661.34,442.47 L668.06,442.47 L664.70,448.14Z" fill="#800080"/>
<line x1="568.60" y1="278.80" x2="597.10" y2="278.80" stroke="#888888" stroke-width="1.0" />
<rect x="579.36" y="276.06" width="7.28" height="5.49" fill="#000000"/>
<text x="604.90" y="281.80" font-family="'Liberation Serif', serif" font-size="9" font-weight="bold" text-anchor="start" fill="#111" stroke="#111" stroke-width="0.3" textLength="55.33" lengthAdjust="spacingAndGlyphs" >Mild Steel</text>
<line x1="568.60" y1="290.02" x2="597.10" y2="290.02" stroke="#ff6666" stroke-width="1.0" />
<rect x="579.36" y="287.28" width="7.28" height="5.49" fill="#ff0000"/>
<text x="604.90" y="293.02" font-family="'Liberation Serif', serif" font-size="9" font-weight="bold" text-anchor="start" fill="#111" stroke="#111" stroke-width="0.3" textLength="26.79" lengthAdjust="spacingAndGlyphs" >BCN</text>
<line x1="568.60" y1="301.24" x2="597.10" y2="301.24" stroke="#6666ff" stroke-width="1.0" />
<ellipse cx="583.00" cy="301.24" rx="3.90" ry="2.65" fill="#0000ff"/>
<text x="604.90" y="304.24" font-family="'Liberation Serif', serif" font-size="9" font-weight="bold" text-anchor="start" fill="#111" stroke="#111" stroke-width="0.3" textLength="56.40" lengthAdjust="spacingAndGlyphs" >BCN - Mn</text>
<line x1="568.60" y1="312.46" x2="597.10" y2="312.46" stroke="#44a044" stroke-width="1.0" />
<ellipse cx="583.00" cy="312.46" rx="3.90" ry="2.65" fill="#008000"/>
<text x="604.90" y="315.46" font-family="'Liberation Serif', serif" font-size="9" font-weight="bold" text-anchor="start" fill="#111" stroke="#111" stroke-width="0.3" textLength="50.06" lengthAdjust="spacingAndGlyphs" >BCN - Ni</text>
<line x1="568.60" y1="323.68" x2="597.10" y2="323.68" stroke="#a050a0" stroke-width="1.0" />
<path d="M578.84,321.13 L587.16,321.13 L583.00,326.42Z" fill="#800080"/>
<text x="604.90" y="326.68" font-family="'Liberation Serif', serif" font-size="9" font-weight="bold" text-anchor="start" fill="#111" stroke="#111" stroke-width="0.3" textLength="52.87" lengthAdjust="spacingAndGlyphs" >BCN - Co</text>
</svg>
</body></html>
